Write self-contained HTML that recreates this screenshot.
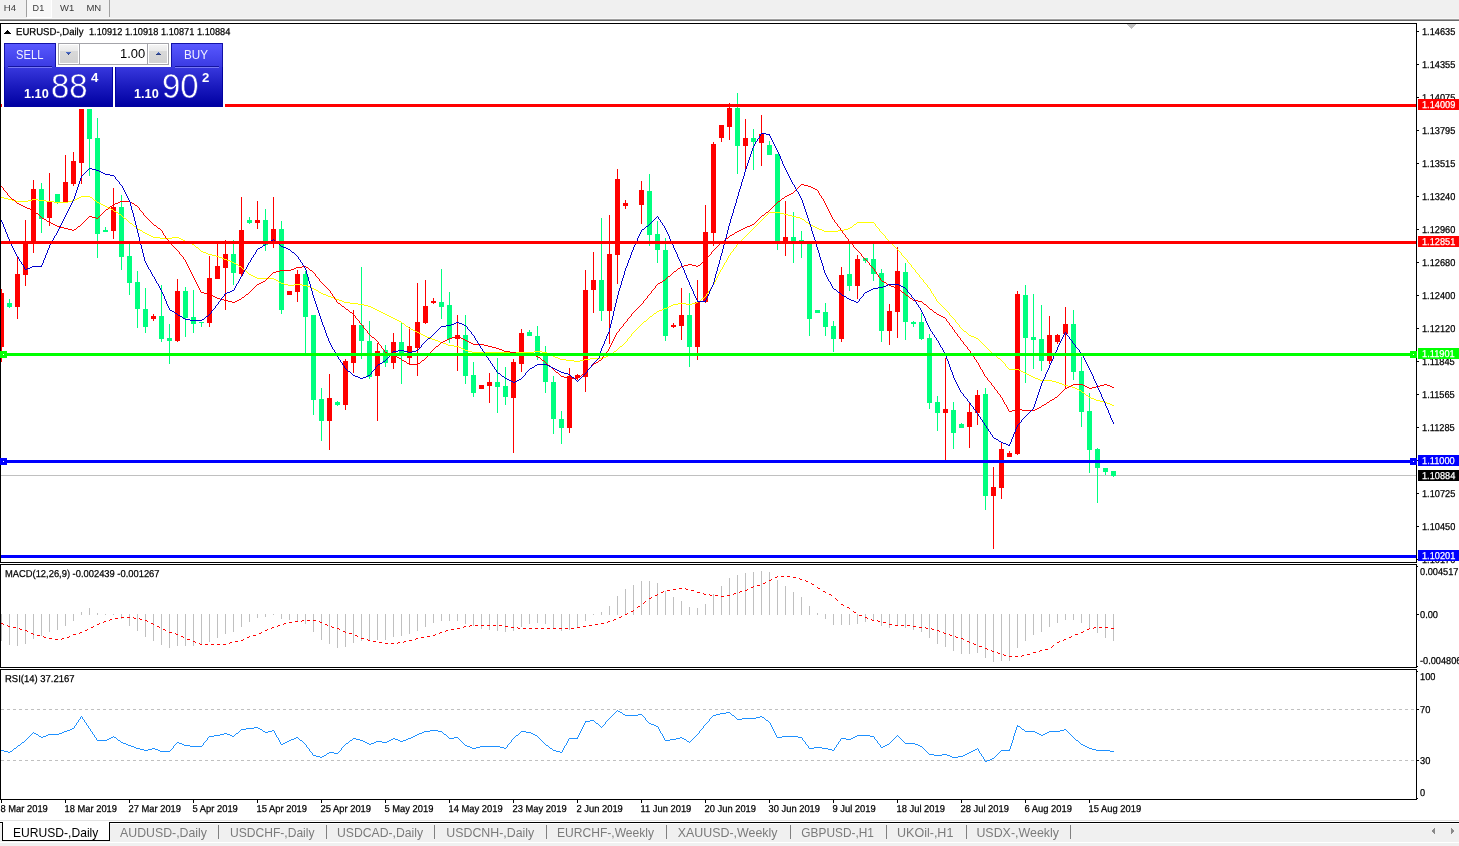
<!DOCTYPE html>
<html lang="en">
<head>
<meta charset="utf-8">
<title>EURUSD-,Daily</title>
<style>
html,body{margin:0;padding:0;}
body{width:1459px;height:846px;position:relative;overflow:hidden;background:#fff;font-family:"Liberation Sans", Arial, sans-serif;}
#toolbar{position:absolute;left:0;top:0;width:1459px;height:19px;background:linear-gradient(#f0f0f0 0,#f0f0f0 18px,#f8f8f8 18px);border-bottom:1px solid #a0a0a0;box-sizing:content-box;}
#toolbar .ln2{position:absolute;left:0;top:20px;width:1459px;height:1px;background:#696969;}
#toolbar .tf{position:absolute;top:2px;font-size:10px;line-height:11px;color:#3c3c3c;}
#toolbar .vsep{position:absolute;top:0;width:1px;height:17px;background:#a0a0a0;}
#toolbar .pressed{position:absolute;left:27px;top:0;width:24px;height:17px;background:#f8f8f8;border-right:1px solid #fff;border-bottom:1px solid #fff;}
#panel{position:absolute;left:2px;top:42px;width:223px;height:67px;background:#fff;}
#panel .btn{position:absolute;top:1px;width:52px;height:24px;background:linear-gradient(#5858ff,#3a3ae2);box-sizing:border-box;border:1px solid #1212a8;border-bottom:none;color:#f0f0ff;font-size:13px;line-height:24px;text-align:center;}
#panel .btn span{position:absolute;left:0;top:0;white-space:nowrap;transform-origin:left top;}
#panel .btn u{position:absolute;left:3px;right:3px;bottom:-1px;height:1px;background:#7878f4;border-top:1px solid #1414a0;z-index:3;}
#panel .px{position:absolute;top:25px;height:40px;background:linear-gradient(#3838de,#1a1abe 50%,#0000a2);box-sizing:border-box;border:1px solid #0202a0;border-top:none;color:#fff;}
#panel .px span{position:absolute;white-space:nowrap;transform-origin:left top;}
#panel .px .s{font-weight:bold;font-size:12px;line-height:12px;}
#panel .px .b{font-size:34.5px;line-height:34px;-webkit-text-stroke:0.5px #1c1cc0;}
#spin{position:absolute;left:56px;top:1px;width:111px;height:22px;box-sizing:border-box;border:1px solid #a4a4aa;background:#fff;}
#spin .sb{position:absolute;top:1px;width:18px;height:18px;background:linear-gradient(#f4f4f4 0%,#e9e9e9 33%,#d9d9d9 34%,#d2d2d2 100%);}
#spin .dv{position:absolute;top:0;width:1px;height:20px;background:#a4a4aa;}
#spin .val{position:absolute;left:0;top:0;font-size:12px;line-height:12px;color:#000;white-space:nowrap;transform-origin:left top;}
#tabs{position:absolute;left:0;top:820px;width:1459px;height:26px;background:#f0f0f0;}
#tabs .l0{position:absolute;left:0;top:0;width:1459px;height:1px;background:#e3e3e3;}
#tabs .l1{position:absolute;left:0;top:1px;width:1459px;height:1px;background:#fff;}
#tabs .l2{position:absolute;left:0;top:2px;width:1459px;height:1px;background:#000;}
#tabs .l3{position:absolute;left:0;top:3px;width:1459px;height:1px;background:#fff;}
#tabs .act{position:absolute;left:2px;top:2px;width:108px;height:19px;background:#fff;border:1px solid #000;border-top:none;box-sizing:border-box;}
#tabs .bot{position:absolute;left:0;top:22px;width:1459px;height:1px;background:#fff;}
</style>
</head>
<body>
<div id="toolbar">
  <i class="vsep" style="left:26px"></i>
  <i class="pressed"></i>
  <i class="vsep" style="left:109px"></i>
  <svg width="120" height="19" viewBox="0 0 120 19" style="position:absolute;left:0;top:0" font-family='"Liberation Sans", Arial, sans-serif' font-size="9.6" fill="#3a3a3a">
    <text x="3.8" y="11" textLength="12.2" lengthAdjust="spacingAndGlyphs">H4</text>
    <text x="32.6" y="11" textLength="11.6" lengthAdjust="spacingAndGlyphs">D1</text>
    <text x="60" y="11" textLength="14.2" lengthAdjust="spacingAndGlyphs">W1</text>
    <text x="86.4" y="11" textLength="14.8" lengthAdjust="spacingAndGlyphs">MN</text>
  </svg>
  <i class="ln2"></i>
</div>
<svg width="1459" height="846" viewBox="0 0 1459 846" shape-rendering="crispEdges" style="position:absolute;left:0;top:0"><rect x="1" y="475" width="1415" height="1" fill="#c0c0c0" />
<g id="candles">
<rect x="1" y="289" width="1" height="73" fill="#ff0000" />
<rect x="-1" y="293" width="5" height="54" fill="#ff0000" />
<rect x="9" y="299" width="1" height="9" fill="#00ff7f" />
<rect x="7" y="303" width="5" height="4" fill="#00ff7f" />
<rect x="17" y="257" width="1" height="62" fill="#ff0000" />
<rect x="15" y="274" width="5" height="33" fill="#ff0000" />
<rect x="25" y="220" width="1" height="66" fill="#ff0000" />
<rect x="23" y="241" width="5" height="34" fill="#ff0000" />
<rect x="33" y="180" width="1" height="73" fill="#ff0000" />
<rect x="31" y="189" width="5" height="53" fill="#ff0000" />
<rect x="41" y="183" width="1" height="50" fill="#00ff7f" />
<rect x="39" y="189" width="5" height="30" fill="#00ff7f" />
<rect x="49" y="173" width="1" height="53" fill="#ff0000" />
<rect x="47" y="202" width="5" height="16" fill="#ff0000" />
<rect x="57" y="194" width="1" height="10" fill="#00ff7f" />
<rect x="55" y="194" width="5" height="8" fill="#00ff7f" />
<rect x="65" y="155" width="1" height="47" fill="#ff0000" />
<rect x="63" y="182" width="5" height="20" fill="#ff0000" />
<rect x="73" y="152" width="1" height="34" fill="#ff0000" />
<rect x="71" y="161" width="5" height="23" fill="#ff0000" />
<rect x="81" y="98" width="1" height="86" fill="#ff0000" />
<rect x="79" y="104" width="5" height="59" fill="#ff0000" />
<rect x="89" y="96" width="1" height="80" fill="#00ff7f" />
<rect x="87" y="104" width="5" height="35" fill="#00ff7f" />
<rect x="97" y="118" width="1" height="140" fill="#00ff7f" />
<rect x="95" y="138" width="5" height="96" fill="#00ff7f" />
<rect x="105" y="227" width="1" height="5" fill="#00ff7f" />
<rect x="103" y="230" width="5" height="2" fill="#00ff7f" />
<rect x="113" y="188" width="1" height="51" fill="#ff0000" />
<rect x="111" y="207" width="5" height="24" fill="#ff0000" />
<rect x="121" y="195" width="1" height="75" fill="#00ff7f" />
<rect x="119" y="207" width="5" height="50" fill="#00ff7f" />
<rect x="129" y="243" width="1" height="52" fill="#00ff7f" />
<rect x="127" y="256" width="5" height="27" fill="#00ff7f" />
<rect x="137" y="271" width="1" height="57" fill="#00ff7f" />
<rect x="135" y="282" width="5" height="27" fill="#00ff7f" />
<rect x="145" y="288" width="1" height="45" fill="#00ff7f" />
<rect x="143" y="309" width="5" height="18" fill="#00ff7f" />
<rect x="153" y="314" width="1" height="7" fill="#ff0000" />
<rect x="151" y="316" width="5" height="3" fill="#ff0000" />
<rect x="161" y="285" width="1" height="57" fill="#00ff7f" />
<rect x="159" y="316" width="5" height="23" fill="#00ff7f" />
<rect x="169" y="324" width="1" height="40" fill="#00ff7f" />
<rect x="167" y="338" width="5" height="3" fill="#00ff7f" />
<rect x="177" y="279" width="1" height="63" fill="#ff0000" />
<rect x="175" y="291" width="5" height="50" fill="#ff0000" />
<rect x="185" y="287" width="1" height="50" fill="#00ff7f" />
<rect x="183" y="291" width="5" height="27" fill="#00ff7f" />
<rect x="193" y="290" width="1" height="43" fill="#00ff7f" />
<rect x="191" y="317" width="5" height="7" fill="#00ff7f" />
<rect x="201" y="322" width="1" height="5" fill="#00ff7f" />
<rect x="199" y="322" width="5" height="1" fill="#00ff7f" />
<rect x="209" y="256" width="1" height="71" fill="#ff0000" />
<rect x="207" y="278" width="5" height="45" fill="#ff0000" />
<rect x="217" y="243" width="1" height="36" fill="#ff0000" />
<rect x="215" y="266" width="5" height="13" fill="#ff0000" />
<rect x="225" y="240" width="1" height="70" fill="#ff0000" />
<rect x="223" y="254" width="5" height="14" fill="#ff0000" />
<rect x="233" y="240" width="1" height="45" fill="#00ff7f" />
<rect x="231" y="254" width="5" height="19" fill="#00ff7f" />
<rect x="241" y="197" width="1" height="80" fill="#ff0000" />
<rect x="239" y="230" width="5" height="44" fill="#ff0000" />
<rect x="249" y="217" width="1" height="7" fill="#00ff7f" />
<rect x="247" y="220" width="5" height="3" fill="#00ff7f" />
<rect x="257" y="201" width="1" height="28" fill="#ff0000" />
<rect x="255" y="220" width="5" height="3" fill="#ff0000" />
<rect x="265" y="209" width="1" height="42" fill="#00ff7f" />
<rect x="263" y="220" width="5" height="25" fill="#00ff7f" />
<rect x="273" y="197" width="1" height="51" fill="#ff0000" />
<rect x="271" y="229" width="5" height="14" fill="#ff0000" />
<rect x="281" y="221" width="1" height="93" fill="#00ff7f" />
<rect x="279" y="229" width="5" height="81" fill="#00ff7f" />
<rect x="289" y="291" width="1" height="4" fill="#ff0000" />
<rect x="287" y="291" width="5" height="4" fill="#ff0000" />
<rect x="297" y="270" width="1" height="32" fill="#ff0000" />
<rect x="295" y="274" width="5" height="18" fill="#ff0000" />
<rect x="305" y="271" width="1" height="82" fill="#00ff7f" />
<rect x="303" y="274" width="5" height="43" fill="#00ff7f" />
<rect x="313" y="315" width="1" height="100" fill="#00ff7f" />
<rect x="311" y="315" width="5" height="85" fill="#00ff7f" />
<rect x="321" y="388" width="1" height="53" fill="#00ff7f" />
<rect x="319" y="399" width="5" height="22" fill="#00ff7f" />
<rect x="329" y="374" width="1" height="76" fill="#ff0000" />
<rect x="327" y="398" width="5" height="23" fill="#ff0000" />
<rect x="337" y="401" width="1" height="5" fill="#00ff7f" />
<rect x="335" y="402" width="5" height="3" fill="#00ff7f" />
<rect x="345" y="359" width="1" height="51" fill="#ff0000" />
<rect x="343" y="361" width="5" height="44" fill="#ff0000" />
<rect x="353" y="310" width="1" height="63" fill="#ff0000" />
<rect x="351" y="325" width="5" height="38" fill="#ff0000" />
<rect x="361" y="267" width="1" height="92" fill="#00ff7f" />
<rect x="359" y="325" width="5" height="16" fill="#00ff7f" />
<rect x="369" y="321" width="1" height="58" fill="#00ff7f" />
<rect x="367" y="341" width="5" height="36" fill="#00ff7f" />
<rect x="377" y="343" width="1" height="78" fill="#ff0000" />
<rect x="375" y="351" width="5" height="25" fill="#ff0000" />
<rect x="385" y="345" width="1" height="22" fill="#00ff7f" />
<rect x="383" y="350" width="5" height="13" fill="#00ff7f" />
<rect x="393" y="333" width="1" height="36" fill="#ff0000" />
<rect x="391" y="342" width="5" height="21" fill="#ff0000" />
<rect x="401" y="322" width="1" height="62" fill="#00ff7f" />
<rect x="399" y="342" width="5" height="14" fill="#00ff7f" />
<rect x="409" y="327" width="1" height="37" fill="#ff0000" />
<rect x="407" y="346" width="5" height="12" fill="#ff0000" />
<rect x="417" y="283" width="1" height="93" fill="#ff0000" />
<rect x="415" y="322" width="5" height="26" fill="#ff0000" />
<rect x="425" y="280" width="1" height="44" fill="#ff0000" />
<rect x="423" y="306" width="5" height="17" fill="#ff0000" />
<rect x="433" y="298" width="1" height="6" fill="#ff0000" />
<rect x="431" y="301" width="5" height="2" fill="#ff0000" />
<rect x="441" y="269" width="1" height="50" fill="#00ff7f" />
<rect x="439" y="302" width="5" height="5" fill="#00ff7f" />
<rect x="449" y="292" width="1" height="51" fill="#00ff7f" />
<rect x="447" y="305" width="5" height="34" fill="#00ff7f" />
<rect x="457" y="315" width="1" height="56" fill="#ff0000" />
<rect x="455" y="335" width="5" height="4" fill="#ff0000" />
<rect x="465" y="315" width="1" height="69" fill="#00ff7f" />
<rect x="463" y="335" width="5" height="41" fill="#00ff7f" />
<rect x="473" y="362" width="1" height="35" fill="#00ff7f" />
<rect x="471" y="375" width="5" height="18" fill="#00ff7f" />
<rect x="481" y="385" width="1" height="4" fill="#ff0000" />
<rect x="479" y="385" width="5" height="4" fill="#ff0000" />
<rect x="489" y="373" width="1" height="30" fill="#ff0000" />
<rect x="487" y="382" width="5" height="4" fill="#ff0000" />
<rect x="497" y="358" width="1" height="55" fill="#00ff7f" />
<rect x="495" y="382" width="5" height="5" fill="#00ff7f" />
<rect x="505" y="367" width="1" height="38" fill="#00ff7f" />
<rect x="503" y="386" width="5" height="11" fill="#00ff7f" />
<rect x="513" y="359" width="1" height="94" fill="#ff0000" />
<rect x="511" y="362" width="5" height="36" fill="#ff0000" />
<rect x="521" y="329" width="1" height="43" fill="#ff0000" />
<rect x="519" y="333" width="5" height="31" fill="#ff0000" />
<rect x="529" y="330" width="1" height="6" fill="#00ff7f" />
<rect x="527" y="332" width="5" height="4" fill="#00ff7f" />
<rect x="537" y="326" width="1" height="34" fill="#00ff7f" />
<rect x="535" y="336" width="5" height="18" fill="#00ff7f" />
<rect x="545" y="346" width="1" height="47" fill="#00ff7f" />
<rect x="543" y="353" width="5" height="29" fill="#00ff7f" />
<rect x="553" y="376" width="1" height="58" fill="#00ff7f" />
<rect x="551" y="382" width="5" height="37" fill="#00ff7f" />
<rect x="561" y="411" width="1" height="33" fill="#00ff7f" />
<rect x="559" y="419" width="5" height="9" fill="#00ff7f" />
<rect x="569" y="368" width="1" height="65" fill="#ff0000" />
<rect x="567" y="376" width="5" height="52" fill="#ff0000" />
<rect x="577" y="374" width="1" height="6" fill="#ff0000" />
<rect x="575" y="375" width="5" height="3" fill="#ff0000" />
<rect x="585" y="270" width="1" height="122" fill="#ff0000" />
<rect x="583" y="290" width="5" height="87" fill="#ff0000" />
<rect x="593" y="252" width="1" height="61" fill="#ff0000" />
<rect x="591" y="280" width="5" height="10" fill="#ff0000" />
<rect x="601" y="218" width="1" height="103" fill="#00ff7f" />
<rect x="599" y="280" width="5" height="31" fill="#00ff7f" />
<rect x="609" y="215" width="1" height="129" fill="#ff0000" />
<rect x="607" y="254" width="5" height="57" fill="#ff0000" />
<rect x="617" y="169" width="1" height="115" fill="#ff0000" />
<rect x="615" y="179" width="5" height="76" fill="#ff0000" />
<rect x="625" y="200" width="1" height="9" fill="#ff0000" />
<rect x="623" y="203" width="5" height="3" fill="#ff0000" />
<rect x="641" y="181" width="1" height="43" fill="#ff0000" />
<rect x="639" y="190" width="5" height="15" fill="#ff0000" />
<rect x="649" y="174" width="1" height="72" fill="#00ff7f" />
<rect x="647" y="191" width="5" height="44" fill="#00ff7f" />
<rect x="657" y="221" width="1" height="42" fill="#00ff7f" />
<rect x="655" y="234" width="5" height="16" fill="#00ff7f" />
<rect x="665" y="238" width="1" height="103" fill="#00ff7f" />
<rect x="663" y="250" width="5" height="86" fill="#00ff7f" />
<rect x="673" y="323" width="1" height="5" fill="#ff0000" />
<rect x="671" y="325" width="5" height="2" fill="#ff0000" />
<rect x="681" y="288" width="1" height="52" fill="#ff0000" />
<rect x="679" y="315" width="5" height="11" fill="#ff0000" />
<rect x="689" y="293" width="1" height="74" fill="#00ff7f" />
<rect x="687" y="315" width="5" height="32" fill="#00ff7f" />
<rect x="697" y="280" width="1" height="80" fill="#ff0000" />
<rect x="695" y="302" width="5" height="45" fill="#ff0000" />
<rect x="705" y="205" width="1" height="98" fill="#ff0000" />
<rect x="703" y="232" width="5" height="70" fill="#ff0000" />
<rect x="713" y="142" width="1" height="104" fill="#ff0000" />
<rect x="711" y="144" width="5" height="89" fill="#ff0000" />
<rect x="721" y="125" width="1" height="17" fill="#ff0000" />
<rect x="719" y="125" width="5" height="13" fill="#ff0000" />
<rect x="729" y="103" width="1" height="37" fill="#ff0000" />
<rect x="727" y="108" width="5" height="19" fill="#ff0000" />
<rect x="737" y="93" width="1" height="81" fill="#00ff7f" />
<rect x="735" y="108" width="5" height="38" fill="#00ff7f" />
<rect x="745" y="119" width="1" height="50" fill="#ff0000" />
<rect x="743" y="138" width="5" height="8" fill="#ff0000" />
<rect x="753" y="129" width="1" height="41" fill="#00ff7f" />
<rect x="751" y="138" width="5" height="4" fill="#00ff7f" />
<rect x="761" y="115" width="1" height="51" fill="#ff0000" />
<rect x="759" y="134" width="5" height="9" fill="#ff0000" />
<rect x="769" y="141" width="1" height="14" fill="#00ff7f" />
<rect x="767" y="145" width="5" height="10" fill="#00ff7f" />
<rect x="777" y="154" width="1" height="96" fill="#00ff7f" />
<rect x="775" y="154" width="5" height="89" fill="#00ff7f" />
<rect x="785" y="201" width="1" height="55" fill="#ff0000" />
<rect x="783" y="237" width="5" height="6" fill="#ff0000" />
<rect x="793" y="212" width="1" height="51" fill="#00ff7f" />
<rect x="791" y="237" width="5" height="6" fill="#00ff7f" />
<rect x="801" y="231" width="1" height="27" fill="#00ff7f" />
<rect x="799" y="240" width="5" height="3" fill="#00ff7f" />
<rect x="809" y="241" width="1" height="95" fill="#00ff7f" />
<rect x="807" y="242" width="5" height="77" fill="#00ff7f" />
<rect x="817" y="310" width="1" height="3" fill="#00ff7f" />
<rect x="815" y="310" width="5" height="3" fill="#00ff7f" />
<rect x="825" y="303" width="1" height="33" fill="#00ff7f" />
<rect x="823" y="312" width="5" height="15" fill="#00ff7f" />
<rect x="833" y="321" width="1" height="31" fill="#00ff7f" />
<rect x="831" y="326" width="5" height="13" fill="#00ff7f" />
<rect x="841" y="267" width="1" height="75" fill="#ff0000" />
<rect x="839" y="275" width="5" height="64" fill="#ff0000" />
<rect x="849" y="243" width="1" height="48" fill="#00ff7f" />
<rect x="847" y="274" width="5" height="12" fill="#00ff7f" />
<rect x="857" y="255" width="1" height="44" fill="#ff0000" />
<rect x="855" y="259" width="5" height="27" fill="#ff0000" />
<rect x="865" y="258" width="1" height="5" fill="#00ff7f" />
<rect x="863" y="258" width="5" height="3" fill="#00ff7f" />
<rect x="873" y="244" width="1" height="37" fill="#00ff7f" />
<rect x="871" y="259" width="5" height="15" fill="#00ff7f" />
<rect x="881" y="269" width="1" height="73" fill="#00ff7f" />
<rect x="879" y="273" width="5" height="58" fill="#00ff7f" />
<rect x="889" y="304" width="1" height="41" fill="#ff0000" />
<rect x="887" y="311" width="5" height="20" fill="#ff0000" />
<rect x="897" y="247" width="1" height="91" fill="#ff0000" />
<rect x="895" y="271" width="5" height="41" fill="#ff0000" />
<rect x="905" y="263" width="1" height="77" fill="#00ff7f" />
<rect x="903" y="272" width="5" height="50" fill="#00ff7f" />
<rect x="913" y="321" width="1" height="6" fill="#00ff7f" />
<rect x="911" y="322" width="5" height="2" fill="#00ff7f" />
<rect x="921" y="313" width="1" height="27" fill="#00ff7f" />
<rect x="919" y="322" width="5" height="17" fill="#00ff7f" />
<rect x="929" y="334" width="1" height="75" fill="#00ff7f" />
<rect x="927" y="338" width="5" height="65" fill="#00ff7f" />
<rect x="937" y="396" width="1" height="35" fill="#00ff7f" />
<rect x="935" y="402" width="5" height="11" fill="#00ff7f" />
<rect x="945" y="358" width="1" height="102" fill="#ff0000" />
<rect x="943" y="409" width="5" height="4" fill="#ff0000" />
<rect x="953" y="402" width="1" height="47" fill="#00ff7f" />
<rect x="951" y="410" width="5" height="23" fill="#00ff7f" />
<rect x="961" y="423" width="1" height="5" fill="#00ff7f" />
<rect x="959" y="424" width="5" height="4" fill="#00ff7f" />
<rect x="969" y="402" width="1" height="46" fill="#ff0000" />
<rect x="967" y="412" width="5" height="15" fill="#ff0000" />
<rect x="977" y="390" width="1" height="35" fill="#ff0000" />
<rect x="975" y="395" width="5" height="18" fill="#ff0000" />
<rect x="985" y="388" width="1" height="122" fill="#00ff7f" />
<rect x="983" y="394" width="5" height="102" fill="#00ff7f" />
<rect x="993" y="467" width="1" height="82" fill="#ff0000" />
<rect x="991" y="487" width="5" height="9" fill="#ff0000" />
<rect x="1001" y="442" width="1" height="57" fill="#ff0000" />
<rect x="999" y="449" width="5" height="39" fill="#ff0000" />
<rect x="1009" y="451" width="1" height="6" fill="#ff0000" />
<rect x="1007" y="453" width="5" height="4" fill="#ff0000" />
<rect x="1017" y="291" width="1" height="164" fill="#ff0000" />
<rect x="1015" y="294" width="5" height="160" fill="#ff0000" />
<rect x="1025" y="285" width="1" height="98" fill="#00ff7f" />
<rect x="1023" y="295" width="5" height="43" fill="#00ff7f" />
<rect x="1033" y="294" width="1" height="75" fill="#00ff7f" />
<rect x="1031" y="337" width="5" height="3" fill="#00ff7f" />
<rect x="1041" y="305" width="1" height="66" fill="#00ff7f" />
<rect x="1039" y="339" width="5" height="22" fill="#00ff7f" />
<rect x="1049" y="316" width="1" height="48" fill="#ff0000" />
<rect x="1047" y="335" width="5" height="26" fill="#ff0000" />
<rect x="1057" y="334" width="1" height="10" fill="#ff0000" />
<rect x="1055" y="335" width="5" height="7" fill="#ff0000" />
<rect x="1065" y="307" width="1" height="82" fill="#ff0000" />
<rect x="1063" y="324" width="5" height="10" fill="#ff0000" />
<rect x="1073" y="310" width="1" height="70" fill="#00ff7f" />
<rect x="1071" y="324" width="5" height="48" fill="#00ff7f" />
<rect x="1081" y="357" width="1" height="70" fill="#00ff7f" />
<rect x="1079" y="371" width="5" height="41" fill="#00ff7f" />
<rect x="1089" y="393" width="1" height="80" fill="#00ff7f" />
<rect x="1087" y="411" width="5" height="39" fill="#00ff7f" />
<rect x="1097" y="448" width="1" height="55" fill="#00ff7f" />
<rect x="1095" y="449" width="5" height="19" fill="#00ff7f" />
<rect x="1105" y="468" width="1" height="7" fill="#00ff7f" />
<rect x="1103" y="468" width="5" height="4" fill="#00ff7f" />
<rect x="1113" y="471" width="1" height="6" fill="#00ff7f" />
<rect x="1111" y="471" width="5" height="5" fill="#00ff7f" />
</g>
<g id="ma">
<path d="M81 196h9v1h-9zM1 197h3v1h-3zM79 197h2v1h-2zM90 197h2v1h-2zM4 198h4v1h-4zM77 198h2v1h-2zM8 199h4v1h-4zM32 199h6v1h-6zM75 199h2v1h-2zM12 200h4v1h-4zM28 200h4v1h-4zM38 200h8v1h-8zM72 200h3v1h-3zM94 200h2v1h-2zM16 201h12v1h-12zM46 201h8v1h-8zM68 201h4v1h-4zM54 202h14v1h-14zM97 202h2v1h-2zM99 203h2v1h-2zM101 204h2v1h-2zM103 205h2v1h-2zM105 206h2v1h-2zM107 207h2v1h-2zM109 208h2v1h-2zM111 209h2v1h-2zM114 211h2v1h-2zM116 212h2v1h-2zM769 212h11v1h-11zM780 213h4v1h-4zM119 214h2v1h-2zM784 214h4v1h-4zM788 215h4v1h-4zM792 216h4v1h-4zM796 217h4v1h-4zM124 218h2v1h-2zM800 218h2v1h-2zM802 219h2v1h-2zM806 222h2v1h-2zM857 222h17v1h-17zM130 223h2v1h-2zM809 224h2v1h-2zM854 224h2v1h-2zM811 225h2v1h-2zM134 226h2v1h-2zM813 226h2v1h-2zM815 227h2v1h-2zM850 227h2v1h-2zM817 228h2v1h-2zM848 228h2v1h-2zM138 229h2v1h-2zM819 229h3v1h-3zM844 229h4v1h-4zM140 230h2v1h-2zM822 230h2v1h-2zM838 230h6v1h-6zM824 231h14v1h-14zM143 232h2v1h-2zM145 233h2v1h-2zM147 234h2v1h-2zM149 235h2v1h-2zM151 236h2v1h-2zM153 237h7v1h-7zM172 237h7v1h-7zM160 238h12v1h-12zM179 238h2v1h-2zM181 239h2v1h-2zM183 240h2v1h-2zM185 241h2v1h-2zM187 242h3v1h-3zM190 243h2v1h-2zM192 244h2v1h-2zM196 247h2v1h-2zM201 251h2v1h-2zM203 252h3v1h-3zM206 253h2v1h-2zM208 254h4v1h-4zM212 255h4v1h-4zM216 256h3v1h-3zM219 257h3v1h-3zM222 258h2v1h-2zM224 259h3v1h-3zM227 260h3v1h-3zM230 261h2v1h-2zM232 262h2v1h-2zM234 263h2v1h-2zM236 264h2v1h-2zM239 266h2v1h-2zM244 270h2v1h-2zM249 274h2v1h-2zM251 275h2v1h-2zM253 276h2v1h-2zM255 277h2v1h-2zM257 278h17v1h-17zM274 279h2v1h-2zM276 280h2v1h-2zM279 282h2v1h-2zM281 283h3v1h-3zM284 284h4v1h-4zM294 284h8v1h-8zM288 285h6v1h-6zM302 285h5v1h-5zM307 286h3v1h-3zM310 287h2v1h-2zM312 288h2v1h-2zM314 289h2v1h-2zM316 290h2v1h-2zM319 292h2v1h-2zM321 293h2v1h-2zM323 294h3v1h-3zM326 295h2v1h-2zM328 296h3v1h-3zM331 297h3v1h-3zM334 298h2v1h-2zM702 298h2v1h-2zM336 299h3v1h-3zM339 300h3v1h-3zM342 301h2v1h-2zM698 301h2v1h-2zM344 302h6v1h-6zM696 302h2v1h-2zM350 303h8v1h-8zM678 303h8v1h-8zM692 303h4v1h-4zM358 304h6v1h-6zM673 304h5v1h-5zM686 304h6v1h-6zM364 305h4v1h-4zM671 305h2v1h-2zM368 306h3v1h-3zM669 306h2v1h-2zM371 307h2v1h-2zM667 307h2v1h-2zM373 308h2v1h-2zM664 308h3v1h-3zM375 309h2v1h-2zM662 309h2v1h-2zM377 310h2v1h-2zM659 310h3v1h-3zM379 311h2v1h-2zM657 311h2v1h-2zM381 312h2v1h-2zM383 313h2v1h-2zM654 313h2v1h-2zM385 314h2v1h-2zM387 315h2v1h-2zM389 316h2v1h-2zM650 316h2v1h-2zM391 317h2v1h-2zM393 318h2v1h-2zM395 319h2v1h-2zM397 320h2v1h-2zM399 321h2v1h-2zM644 321h2v1h-2zM402 323h2v1h-2zM406 326h2v1h-2zM409 328h2v1h-2zM411 329h2v1h-2zM413 330h2v1h-2zM415 331h2v1h-2zM964 331h2v1h-2zM417 332h2v1h-2zM419 333h2v1h-2zM421 334h2v1h-2zM423 335h2v1h-2zM969 335h2v1h-2zM425 336h2v1h-2zM971 336h3v1h-3zM427 337h3v1h-3zM974 337h2v1h-2zM430 338h2v1h-2zM976 338h2v1h-2zM432 339h3v1h-3zM435 340h3v1h-3zM438 341h2v1h-2zM440 342h3v1h-3zM443 343h3v1h-3zM446 344h2v1h-2zM448 345h6v1h-6zM454 346h5v1h-5zM620 346h2v1h-2zM459 347h2v1h-2zM461 348h2v1h-2zM463 349h2v1h-2zM465 350h3v1h-3zM468 351h4v1h-4zM534 351h8v1h-8zM614 351h2v1h-2zM472 352h62v1h-62zM542 352h5v1h-5zM547 353h2v1h-2zM549 354h2v1h-2zM610 354h2v1h-2zM551 355h2v1h-2zM608 355h2v1h-2zM994 355h2v1h-2zM553 356h2v1h-2zM606 356h2v1h-2zM555 357h3v1h-3zM603 357h3v1h-3zM558 358h2v1h-2zM590 358h13v1h-13zM998 358h2v1h-2zM560 359h6v1h-6zM584 359h6v1h-6zM566 360h8v1h-8zM580 360h4v1h-4zM574 361h6v1h-6zM1009 369h10v1h-10zM1019 370h2v1h-2zM1021 371h2v1h-2zM1023 372h2v1h-2zM1025 373h2v1h-2zM1027 374h2v1h-2zM1029 375h2v1h-2zM1031 376h2v1h-2zM1033 377h2v1h-2zM1035 378h3v1h-3zM1038 379h2v1h-2zM1040 380h12v1h-12zM1052 381h4v1h-4zM1056 382h3v1h-3zM1059 383h3v1h-3zM1062 384h2v1h-2zM1064 385h4v1h-4zM1068 386h4v1h-4zM1072 387h3v1h-3zM1075 388h2v1h-2zM1077 389h2v1h-2zM1079 390h2v1h-2zM1082 392h2v1h-2zM1086 395h2v1h-2zM1089 397h2v1h-2zM1091 398h3v1h-3zM1094 399h2v1h-2zM1096 400h4v1h-4zM1100 401h4v1h-4zM1104 402h3v1h-3zM1107 403h3v1h-3zM1110 404h2v1h-2zM1112 405h2v1h-2zM92 198h1v1h-1zM93 199h1v1h-1zM96 201h1v1h-1zM113 210h1v1h-1zM118 213h1v1h-1zM121 215h1v1h-1zM122 216h1v1h-1zM123 217h1v1h-1zM126 219h1v1h-1zM127 220h1v1h-1zM128 221h1v1h-1zM129 222h1v1h-1zM132 224h1v1h-1zM133 225h1v1h-1zM136 227h1v1h-1zM137 228h1v1h-1zM142 231h1v1h-1zM194 245h1v1h-1zM195 246h1v1h-1zM198 248h1v1h-1zM199 249h1v1h-1zM200 250h1v1h-1zM238 265h1v1h-1zM241 267h1v1h-1zM242 268h1v1h-1zM243 269h1v1h-1zM246 271h1v1h-1zM247 272h1v1h-1zM248 273h1v1h-1zM278 281h1v1h-1zM318 291h1v1h-1zM401 322h1v1h-1zM404 324h1v1h-1zM405 325h1v1h-1zM408 327h1v1h-1zM612 353h1v1h-1zM613 352h1v1h-1zM616 350h1v1h-1zM617 349h1v1h-1zM618 348h1v1h-1zM619 347h1v1h-1zM622 345h1v1h-1zM623 344h1v1h-1zM624 343h1v1h-1zM625 342h1v1h-1zM626 341h1v1h-1zM627 339h1v2h-1zM628 338h1v1h-1zM629 337h1v1h-1zM630 336h1v1h-1zM631 334h1v2h-1zM632 333h1v1h-1zM633 332h1v1h-1zM634 331h1v1h-1zM635 330h1v1h-1zM636 329h1v1h-1zM637 328h1v1h-1zM638 327h1v1h-1zM639 326h1v1h-1zM640 325h1v1h-1zM641 324h1v1h-1zM642 323h1v1h-1zM643 322h1v1h-1zM646 320h1v1h-1zM647 319h1v1h-1zM648 318h1v1h-1zM649 317h1v1h-1zM652 315h1v1h-1zM653 314h1v1h-1zM656 312h1v1h-1zM700 300h1v1h-1zM701 299h1v1h-1zM704 297h1v1h-1zM705 296h1v1h-1zM706 294h1v2h-1zM707 293h1v1h-1zM708 291h1v2h-1zM709 290h1v1h-1zM710 288h1v2h-1zM711 287h1v1h-1zM712 285h1v2h-1zM713 284h1v1h-1zM714 282h1v2h-1zM715 280h1v2h-1zM716 278h1v2h-1zM717 276h1v2h-1zM718 274h1v2h-1zM719 272h1v2h-1zM720 270h1v2h-1zM721 269h1v1h-1zM722 267h1v2h-1zM723 265h1v2h-1zM724 263h1v2h-1zM725 262h1v1h-1zM726 260h1v2h-1zM727 258h1v2h-1zM728 256h1v2h-1zM729 255h1v1h-1zM730 253h1v2h-1zM731 252h1v1h-1zM732 251h1v1h-1zM733 249h1v2h-1zM734 248h1v1h-1zM735 247h1v1h-1zM736 245h1v2h-1zM737 244h1v1h-1zM738 243h1v1h-1zM739 242h1v1h-1zM740 241h1v1h-1zM741 240h1v1h-1zM742 239h1v1h-1zM743 238h1v1h-1zM744 237h1v1h-1zM745 236h1v1h-1zM746 235h1v1h-1zM747 234h1v1h-1zM748 233h1v1h-1zM749 232h1v1h-1zM750 231h1v1h-1zM751 230h1v1h-1zM752 229h1v1h-1zM753 228h1v1h-1zM754 227h1v1h-1zM755 226h1v1h-1zM756 225h1v1h-1zM757 224h1v1h-1zM758 223h1v1h-1zM759 222h1v1h-1zM760 221h1v1h-1zM761 220h1v1h-1zM762 219h1v1h-1zM763 218h1v1h-1zM764 217h1v1h-1zM765 216h1v1h-1zM766 215h1v1h-1zM767 214h1v1h-1zM768 213h1v1h-1zM804 220h1v1h-1zM805 221h1v1h-1zM808 223h1v1h-1zM852 226h1v1h-1zM853 225h1v1h-1zM856 223h1v1h-1zM874 223h1v1h-1zM875 224h1v2h-1zM876 226h1v1h-1zM877 227h1v1h-1zM878 228h1v1h-1zM879 229h1v2h-1zM880 231h1v1h-1zM881 232h1v1h-1zM882 233h1v1h-1zM883 234h1v1h-1zM884 235h1v1h-1zM885 236h1v2h-1zM886 238h1v1h-1zM887 239h1v1h-1zM888 240h1v1h-1zM889 241h1v1h-1zM890 242h1v1h-1zM891 243h1v1h-1zM892 244h1v1h-1zM893 245h1v1h-1zM894 246h1v1h-1zM895 247h1v1h-1zM896 248h1v1h-1zM897 249h1v1h-1zM898 250h1v1h-1zM899 251h1v1h-1zM900 252h1v1h-1zM901 253h1v2h-1zM902 255h1v1h-1zM903 256h1v1h-1zM904 257h1v1h-1zM905 258h1v1h-1zM906 259h1v1h-1zM907 260h1v2h-1zM908 262h1v1h-1zM909 263h1v1h-1zM910 264h1v1h-1zM911 265h1v2h-1zM912 267h1v1h-1zM913 268h1v1h-1zM914 269h1v1h-1zM915 270h1v2h-1zM916 272h1v1h-1zM917 273h1v1h-1zM918 274h1v1h-1zM919 275h1v2h-1zM920 277h1v1h-1zM921 278h1v1h-1zM922 279h1v1h-1zM923 280h1v2h-1zM924 282h1v1h-1zM925 283h1v1h-1zM926 284h1v1h-1zM927 285h1v2h-1zM928 287h1v1h-1zM929 288h1v1h-1zM930 289h1v2h-1zM931 291h1v2h-1zM932 293h1v1h-1zM933 294h1v2h-1zM934 296h1v1h-1zM935 297h1v2h-1zM936 299h1v2h-1zM937 301h1v1h-1zM938 302h1v1h-1zM939 303h1v1h-1zM940 304h1v1h-1zM941 305h1v1h-1zM942 306h1v1h-1zM943 307h1v1h-1zM944 308h1v1h-1zM945 309h1v1h-1zM946 310h1v1h-1zM947 311h1v1h-1zM948 312h1v1h-1zM949 313h1v2h-1zM950 315h1v1h-1zM951 316h1v1h-1zM952 317h1v1h-1zM953 318h1v1h-1zM954 319h1v1h-1zM955 320h1v2h-1zM956 322h1v1h-1zM957 323h1v1h-1zM958 324h1v1h-1zM959 325h1v2h-1zM960 327h1v1h-1zM961 328h1v1h-1zM962 329h1v1h-1zM963 330h1v1h-1zM966 332h1v1h-1zM967 333h1v1h-1zM968 334h1v1h-1zM978 339h1v1h-1zM979 340h1v1h-1zM980 341h1v1h-1zM981 342h1v1h-1zM982 343h1v1h-1zM983 344h1v1h-1zM984 345h1v1h-1zM985 346h1v1h-1zM986 347h1v1h-1zM987 348h1v1h-1zM988 349h1v1h-1zM989 350h1v1h-1zM990 351h1v1h-1zM991 352h1v1h-1zM992 353h1v1h-1zM993 354h1v1h-1zM996 356h1v1h-1zM997 357h1v1h-1zM1000 359h1v1h-1zM1001 360h1v1h-1zM1002 361h1v1h-1zM1003 362h1v1h-1zM1004 363h1v1h-1zM1005 364h1v2h-1zM1006 366h1v1h-1zM1007 367h1v1h-1zM1008 368h1v1h-1zM1081 391h1v1h-1zM1084 393h1v1h-1zM1085 394h1v1h-1zM1088 396h1v1h-1z" fill="#ffff00"/>
<path d="M801 184h3v1h-3zM804 185h4v1h-4zM808 186h3v1h-3zM811 187h2v1h-2zM813 188h2v1h-2zM815 189h2v1h-2zM791 193h2v1h-2zM789 194h2v1h-2zM787 195h2v1h-2zM785 196h2v1h-2zM782 198h2v1h-2zM12 199h2v1h-2zM120 201h10v1h-10zM778 201h2v1h-2zM118 202h2v1h-2zM130 202h2v1h-2zM17 203h2v1h-2zM115 203h3v1h-3zM132 203h2v1h-2zM19 204h2v1h-2zM113 204h2v1h-2zM21 205h2v1h-2zM135 205h2v1h-2zM23 206h2v1h-2zM110 206h2v1h-2zM25 207h2v1h-2zM27 208h3v1h-3zM30 209h2v1h-2zM106 209h2v1h-2zM32 210h2v1h-2zM766 212h2v1h-2zM36 213h2v1h-2zM762 215h2v1h-2zM89 216h3v1h-3zM92 217h4v1h-4zM42 218h2v1h-2zM96 218h2v1h-2zM44 219h2v1h-2zM47 221h2v1h-2zM49 222h2v1h-2zM51 223h2v1h-2zM53 224h2v1h-2zM752 224h2v1h-2zM55 225h2v1h-2zM154 225h2v1h-2zM750 225h2v1h-2zM57 226h3v1h-3zM78 226h2v1h-2zM747 226h3v1h-3zM60 227h4v1h-4zM745 227h2v1h-2zM64 228h4v1h-4zM158 228h2v1h-2zM743 228h2v1h-2zM68 229h4v1h-4zM74 229h2v1h-2zM741 229h2v1h-2zM72 230h2v1h-2zM739 230h2v1h-2zM737 231h2v1h-2zM735 232h2v1h-2zM732 234h2v1h-2zM730 235h2v1h-2zM726 238h2v1h-2zM722 241h2v1h-2zM702 262h2v1h-2zM688 264h4v1h-4zM684 265h4v1h-4zM692 265h4v1h-4zM698 265h2v1h-2zM302 266h4v1h-4zM681 266h3v1h-3zM696 266h2v1h-2zM296 267h6v1h-6zM306 267h2v1h-2zM294 268h2v1h-2zM678 268h2v1h-2zM291 269h3v1h-3zM280 270h11v1h-11zM310 270h2v1h-2zM276 271h4v1h-4zM674 271h2v1h-2zM273 272h3v1h-3zM668 276h2v1h-2zM663 280h2v1h-2zM263 281h2v1h-2zM882 281h2v1h-2zM261 282h2v1h-2zM660 282h2v1h-2zM884 282h2v1h-2zM259 283h2v1h-2zM658 283h2v1h-2zM257 284h2v1h-2zM887 284h2v1h-2zM889 285h2v1h-2zM891 286h3v1h-3zM894 287h2v1h-2zM896 288h2v1h-2zM898 289h2v1h-2zM201 292h3v1h-3zM902 292h2v1h-2zM204 293h4v1h-4zM208 294h3v1h-3zM246 294h2v1h-2zM211 295h2v1h-2zM906 295h2v1h-2zM213 296h2v1h-2zM215 297h2v1h-2zM242 297h2v1h-2zM217 298h3v1h-3zM910 298h2v1h-2zM220 299h4v1h-4zM239 299h2v1h-2zM224 300h4v1h-4zM237 300h2v1h-2zM913 300h5v1h-5zM228 301h4v1h-4zM235 301h2v1h-2zM918 301h4v1h-4zM232 302h3v1h-3zM338 303h2v1h-2zM924 304h2v1h-2zM342 306h2v1h-2zM346 309h2v1h-2zM930 309h2v1h-2zM350 312h2v1h-2zM934 312h2v1h-2zM937 314h2v1h-2zM939 315h2v1h-2zM941 316h2v1h-2zM943 317h2v1h-2zM456 336h3v1h-3zM372 337h2v1h-2zM452 337h4v1h-4zM459 337h2v1h-2zM449 338h3v1h-3zM461 338h2v1h-2zM447 339h2v1h-2zM463 339h2v1h-2zM445 340h2v1h-2zM465 340h2v1h-2zM443 341h2v1h-2zM467 341h2v1h-2zM441 342h2v1h-2zM469 342h2v1h-2zM471 343h2v1h-2zM473 344h11v1h-11zM484 345h4v1h-4zM436 346h2v1h-2zM488 346h4v1h-4zM492 347h4v1h-4zM496 348h3v1h-3zM499 349h3v1h-3zM502 350h2v1h-2zM504 351h6v1h-6zM385 352h2v1h-2zM510 352h6v1h-6zM387 353h3v1h-3zM516 353h4v1h-4zM390 354h2v1h-2zM520 354h12v1h-12zM392 355h3v1h-3zM532 355h4v1h-4zM395 356h2v1h-2zM536 356h2v1h-2zM397 357h2v1h-2zM538 357h2v1h-2zM399 358h2v1h-2zM402 360h2v1h-2zM422 360h2v1h-2zM542 360h2v1h-2zM599 360h2v1h-2zM404 361h2v1h-2zM596 362h2v1h-2zM407 363h2v1h-2zM418 363h2v1h-2zM594 363h2v1h-2zM409 364h9v1h-9zM548 365h2v1h-2zM556 372h2v1h-2zM582 374h2v1h-2zM561 376h3v1h-3zM564 377h4v1h-4zM578 377h2v1h-2zM568 378h10v1h-10zM1073 384h10v1h-10zM1104 384h3v1h-3zM1071 385h2v1h-2zM1083 385h2v1h-2zM1100 385h4v1h-4zM1107 385h3v1h-3zM1069 386h2v1h-2zM1085 386h2v1h-2zM1096 386h4v1h-4zM1110 386h2v1h-2zM1067 387h2v1h-2zM1087 387h2v1h-2zM1092 387h4v1h-4zM1112 387h2v1h-2zM1065 388h2v1h-2zM1089 388h3v1h-3zM1055 397h2v1h-2zM1052 399h2v1h-2zM1050 400h2v1h-2zM1047 402h2v1h-2zM1044 404h2v1h-2zM1042 405h2v1h-2zM1039 407h2v1h-2zM1037 408h2v1h-2zM1016 409h6v1h-6zM1035 409h2v1h-2zM1012 410h4v1h-4zM1022 410h13v1h-13zM1009 411h3v1h-3zM1 186h1v1h-1zM2 187h1v1h-1zM3 188h1v2h-1zM4 190h1v1h-1zM5 191h1v1h-1zM6 192h1v1h-1zM7 193h1v2h-1zM8 195h1v1h-1zM9 196h1v1h-1zM10 197h1v1h-1zM11 198h1v1h-1zM14 200h1v1h-1zM15 201h1v1h-1zM16 202h1v1h-1zM34 211h1v1h-1zM35 212h1v1h-1zM38 214h1v1h-1zM39 215h1v1h-1zM40 216h1v1h-1zM41 217h1v1h-1zM46 220h1v1h-1zM76 228h1v1h-1zM77 227h1v1h-1zM80 225h1v1h-1zM81 224h1v1h-1zM82 223h1v1h-1zM83 222h1v1h-1zM84 221h1v1h-1zM85 220h1v1h-1zM86 219h1v1h-1zM87 218h1v1h-1zM88 217h1v1h-1zM98 217h1v1h-1zM99 216h1v1h-1zM100 215h1v1h-1zM101 214h1v1h-1zM102 213h1v1h-1zM103 212h1v1h-1zM104 211h1v1h-1zM105 210h1v1h-1zM108 208h1v1h-1zM109 207h1v1h-1zM112 205h1v1h-1zM134 204h1v1h-1zM137 206h1v1h-1zM138 207h1v1h-1zM139 208h1v2h-1zM140 210h1v1h-1zM141 211h1v1h-1zM142 212h1v1h-1zM143 213h1v2h-1zM144 215h1v1h-1zM145 216h1v1h-1zM146 217h1v1h-1zM147 218h1v1h-1zM148 219h1v1h-1zM149 220h1v1h-1zM150 221h1v1h-1zM151 222h1v1h-1zM152 223h1v1h-1zM153 224h1v1h-1zM156 226h1v1h-1zM157 227h1v1h-1zM160 229h1v1h-1zM161 230h1v1h-1zM162 231h1v2h-1zM163 233h1v2h-1zM164 235h1v1h-1zM165 236h1v2h-1zM166 238h1v1h-1zM167 239h1v1h-1zM168 240h1v1h-1zM169 241h1v1h-1zM170 242h1v1h-1zM171 243h1v2h-1zM172 245h1v1h-1zM173 246h1v1h-1zM174 247h1v1h-1zM175 248h1v1h-1zM176 249h1v1h-1zM177 250h1v1h-1zM178 251h1v1h-1zM179 252h1v2h-1zM180 254h1v1h-1zM181 255h1v1h-1zM182 256h1v1h-1zM183 257h1v2h-1zM184 259h1v1h-1zM185 260h1v2h-1zM186 262h1v2h-1zM187 264h1v2h-1zM188 266h1v2h-1zM189 268h1v2h-1zM190 270h1v2h-1zM191 272h1v2h-1zM192 274h1v2h-1zM193 276h1v2h-1zM194 278h1v2h-1zM195 280h1v2h-1zM196 282h1v2h-1zM197 284h1v2h-1zM198 286h1v2h-1zM199 288h1v2h-1zM200 290h1v2h-1zM241 298h1v1h-1zM244 296h1v1h-1zM245 295h1v1h-1zM248 293h1v1h-1zM249 292h1v1h-1zM250 291h1v1h-1zM251 290h1v1h-1zM252 289h1v1h-1zM253 288h1v1h-1zM254 287h1v1h-1zM255 286h1v1h-1zM256 285h1v1h-1zM265 280h1v1h-1zM266 279h1v1h-1zM267 278h1v1h-1zM268 277h1v1h-1zM269 276h1v1h-1zM270 275h1v1h-1zM271 274h1v1h-1zM272 273h1v1h-1zM308 268h1v1h-1zM309 269h1v1h-1zM312 271h1v1h-1zM313 272h1v1h-1zM314 273h1v1h-1zM315 274h1v2h-1zM316 276h1v1h-1zM317 277h1v1h-1zM318 278h1v1h-1zM319 279h1v2h-1zM320 281h1v1h-1zM321 282h1v1h-1zM322 283h1v1h-1zM323 284h1v1h-1zM324 285h1v1h-1zM325 286h1v1h-1zM326 287h1v1h-1zM327 288h1v1h-1zM328 289h1v1h-1zM329 290h1v1h-1zM330 291h1v2h-1zM331 293h1v1h-1zM332 294h1v2h-1zM333 296h1v1h-1zM334 297h1v2h-1zM335 299h1v1h-1zM336 300h1v2h-1zM337 302h1v1h-1zM340 304h1v1h-1zM341 305h1v1h-1zM344 307h1v1h-1zM345 308h1v1h-1zM348 310h1v1h-1zM349 311h1v1h-1zM352 313h1v1h-1zM353 314h1v1h-1zM354 315h1v1h-1zM355 316h1v2h-1zM356 318h1v1h-1zM357 319h1v1h-1zM358 320h1v1h-1zM359 321h1v2h-1zM360 323h1v1h-1zM361 324h1v1h-1zM362 325h1v1h-1zM363 326h1v2h-1zM364 328h1v1h-1zM365 329h1v1h-1zM366 330h1v1h-1zM367 331h1v2h-1zM368 333h1v1h-1zM369 334h1v1h-1zM370 335h1v1h-1zM371 336h1v1h-1zM374 338h1v1h-1zM375 339h1v1h-1zM376 340h1v1h-1zM377 341h1v1h-1zM378 342h1v2h-1zM379 344h1v1h-1zM380 345h1v1h-1zM381 346h1v2h-1zM382 348h1v1h-1zM383 349h1v1h-1zM384 350h1v2h-1zM401 359h1v1h-1zM406 362h1v1h-1zM420 362h1v1h-1zM421 361h1v1h-1zM424 359h1v1h-1zM425 358h1v1h-1zM426 357h1v1h-1zM427 356h1v1h-1zM428 355h1v1h-1zM429 353h1v2h-1zM430 352h1v1h-1zM431 351h1v1h-1zM432 350h1v1h-1zM433 349h1v1h-1zM434 348h1v1h-1zM435 347h1v1h-1zM438 345h1v1h-1zM439 344h1v1h-1zM440 343h1v1h-1zM540 358h1v1h-1zM541 359h1v1h-1zM544 361h1v1h-1zM545 362h1v1h-1zM546 363h1v1h-1zM547 364h1v1h-1zM550 366h1v1h-1zM551 367h1v1h-1zM552 368h1v1h-1zM553 369h1v1h-1zM554 370h1v1h-1zM555 371h1v1h-1zM558 373h1v1h-1zM559 374h1v1h-1zM560 375h1v1h-1zM580 376h1v1h-1zM581 375h1v1h-1zM584 373h1v1h-1zM585 372h1v1h-1zM586 371h1v1h-1zM587 370h1v1h-1zM588 369h1v1h-1zM589 368h1v1h-1zM590 367h1v1h-1zM591 366h1v1h-1zM592 365h1v1h-1zM593 364h1v1h-1zM598 361h1v1h-1zM601 359h1v1h-1zM602 357h1v2h-1zM603 356h1v1h-1zM604 355h1v1h-1zM605 353h1v2h-1zM606 352h1v1h-1zM607 351h1v1h-1zM608 349h1v2h-1zM609 347h1v2h-1zM610 345h1v2h-1zM611 343h1v2h-1zM612 341h1v2h-1zM613 339h1v2h-1zM614 337h1v2h-1zM615 335h1v2h-1zM616 333h1v2h-1zM617 332h1v1h-1zM618 331h1v1h-1zM619 329h1v2h-1zM620 328h1v1h-1zM621 327h1v1h-1zM622 326h1v1h-1zM623 324h1v2h-1zM624 323h1v1h-1zM625 322h1v1h-1zM626 321h1v1h-1zM627 319h1v2h-1zM628 318h1v1h-1zM629 317h1v1h-1zM630 316h1v1h-1zM631 314h1v2h-1zM632 313h1v1h-1zM633 312h1v1h-1zM634 311h1v1h-1zM635 310h1v1h-1zM636 309h1v1h-1zM637 308h1v1h-1zM638 307h1v1h-1zM639 306h1v1h-1zM640 305h1v1h-1zM641 304h1v1h-1zM642 303h1v1h-1zM643 301h1v2h-1zM644 300h1v1h-1zM645 299h1v1h-1zM646 298h1v1h-1zM647 296h1v2h-1zM648 295h1v1h-1zM649 294h1v1h-1zM650 293h1v1h-1zM651 291h1v2h-1zM652 290h1v1h-1zM653 289h1v1h-1zM654 288h1v1h-1zM655 286h1v2h-1zM656 285h1v1h-1zM657 284h1v1h-1zM662 281h1v1h-1zM665 279h1v1h-1zM666 278h1v1h-1zM667 277h1v1h-1zM670 275h1v1h-1zM671 274h1v1h-1zM672 273h1v1h-1zM673 272h1v1h-1zM676 270h1v1h-1zM677 269h1v1h-1zM680 267h1v1h-1zM700 264h1v1h-1zM701 263h1v1h-1zM704 261h1v1h-1zM705 260h1v1h-1zM706 259h1v1h-1zM707 257h1v2h-1zM708 256h1v1h-1zM709 255h1v1h-1zM710 254h1v1h-1zM711 252h1v2h-1zM712 251h1v1h-1zM713 250h1v1h-1zM714 249h1v1h-1zM715 248h1v1h-1zM716 247h1v1h-1zM717 246h1v1h-1zM718 245h1v1h-1zM719 244h1v1h-1zM720 243h1v1h-1zM721 242h1v1h-1zM724 240h1v1h-1zM725 239h1v1h-1zM728 237h1v1h-1zM729 236h1v1h-1zM734 233h1v1h-1zM754 223h1v1h-1zM755 222h1v1h-1zM756 221h1v1h-1zM757 220h1v1h-1zM758 219h1v1h-1zM759 218h1v1h-1zM760 217h1v1h-1zM761 216h1v1h-1zM764 214h1v1h-1zM765 213h1v1h-1zM768 211h1v1h-1zM769 210h1v1h-1zM770 209h1v1h-1zM771 208h1v1h-1zM772 207h1v1h-1zM773 206h1v1h-1zM774 205h1v1h-1zM775 204h1v1h-1zM776 203h1v1h-1zM777 202h1v1h-1zM780 200h1v1h-1zM781 199h1v1h-1zM784 197h1v1h-1zM793 192h1v1h-1zM794 191h1v1h-1zM795 190h1v1h-1zM796 189h1v1h-1zM797 188h1v1h-1zM798 187h1v1h-1zM799 186h1v1h-1zM800 185h1v1h-1zM817 190h1v1h-1zM818 191h1v2h-1zM819 193h1v2h-1zM820 195h1v1h-1zM821 196h1v2h-1zM822 198h1v1h-1zM823 199h1v2h-1zM824 201h1v2h-1zM825 203h1v2h-1zM826 205h1v2h-1zM827 207h1v2h-1zM828 209h1v2h-1zM829 211h1v2h-1zM830 213h1v2h-1zM831 215h1v2h-1zM832 217h1v2h-1zM833 219h1v1h-1zM834 220h1v2h-1zM835 222h1v1h-1zM836 223h1v1h-1zM837 224h1v2h-1zM838 226h1v1h-1zM839 227h1v1h-1zM840 228h1v2h-1zM841 230h1v1h-1zM842 231h1v2h-1zM843 233h1v1h-1zM844 234h1v1h-1zM845 235h1v2h-1zM846 237h1v1h-1zM847 238h1v1h-1zM848 239h1v2h-1zM849 241h1v1h-1zM850 242h1v1h-1zM851 243h1v1h-1zM852 244h1v1h-1zM853 245h1v2h-1zM854 247h1v1h-1zM855 248h1v1h-1zM856 249h1v1h-1zM857 250h1v1h-1zM858 251h1v1h-1zM859 252h1v1h-1zM860 253h1v1h-1zM861 254h1v2h-1zM862 256h1v1h-1zM863 257h1v1h-1zM864 258h1v1h-1zM865 259h1v1h-1zM866 260h1v1h-1zM867 261h1v1h-1zM868 262h1v1h-1zM869 263h1v2h-1zM870 265h1v1h-1zM871 266h1v1h-1zM872 267h1v1h-1zM873 268h1v1h-1zM874 269h1v2h-1zM875 271h1v1h-1zM876 272h1v2h-1zM877 274h1v1h-1zM878 275h1v2h-1zM879 277h1v1h-1zM880 278h1v2h-1zM881 280h1v1h-1zM886 283h1v1h-1zM900 290h1v1h-1zM901 291h1v1h-1zM904 293h1v1h-1zM905 294h1v1h-1zM908 296h1v1h-1zM909 297h1v1h-1zM912 299h1v1h-1zM922 302h1v1h-1zM923 303h1v1h-1zM926 305h1v1h-1zM927 306h1v1h-1zM928 307h1v1h-1zM929 308h1v1h-1zM932 310h1v1h-1zM933 311h1v1h-1zM936 313h1v1h-1zM945 318h1v1h-1zM946 319h1v2h-1zM947 321h1v1h-1zM948 322h1v1h-1zM949 323h1v2h-1zM950 325h1v1h-1zM951 326h1v1h-1zM952 327h1v2h-1zM953 329h1v1h-1zM954 330h1v2h-1zM955 332h1v1h-1zM956 333h1v1h-1zM957 334h1v2h-1zM958 336h1v1h-1zM959 337h1v1h-1zM960 338h1v2h-1zM961 340h1v1h-1zM962 341h1v1h-1zM963 342h1v2h-1zM964 344h1v1h-1zM965 345h1v1h-1zM966 346h1v1h-1zM967 347h1v2h-1zM968 349h1v1h-1zM969 350h1v1h-1zM970 351h1v2h-1zM971 353h1v1h-1zM972 354h1v2h-1zM973 356h1v1h-1zM974 357h1v2h-1zM975 359h1v1h-1zM976 360h1v2h-1zM977 362h1v1h-1zM978 363h1v2h-1zM979 365h1v2h-1zM980 367h1v2h-1zM981 369h1v1h-1zM982 370h1v2h-1zM983 372h1v2h-1zM984 374h1v2h-1zM985 376h1v1h-1zM986 377h1v1h-1zM987 378h1v2h-1zM988 380h1v1h-1zM989 381h1v1h-1zM990 382h1v1h-1zM991 383h1v2h-1zM992 385h1v1h-1zM993 386h1v1h-1zM994 387h1v2h-1zM995 389h1v1h-1zM996 390h1v1h-1zM997 391h1v2h-1zM998 393h1v1h-1zM999 394h1v1h-1zM1000 395h1v2h-1zM1001 397h1v1h-1zM1002 398h1v2h-1zM1003 400h1v2h-1zM1004 402h1v2h-1zM1005 404h1v1h-1zM1006 405h1v2h-1zM1007 407h1v2h-1zM1008 409h1v2h-1zM1041 406h1v1h-1zM1046 403h1v1h-1zM1049 401h1v1h-1zM1054 398h1v1h-1zM1057 396h1v1h-1zM1058 395h1v1h-1zM1059 394h1v1h-1zM1060 393h1v1h-1zM1061 392h1v1h-1zM1062 391h1v1h-1zM1063 390h1v1h-1zM1064 389h1v1h-1z" fill="#ff0000"/>
<path d="M761 133h5v1h-5zM766 134h4v1h-4zM89 168h3v1h-3zM92 169h4v1h-4zM96 170h3v1h-3zM99 171h2v1h-2zM101 172h2v1h-2zM103 173h2v1h-2zM105 174h5v1h-5zM110 175h4v1h-4zM646 226h2v1h-2zM642 229h2v1h-2zM271 240h2v1h-2zM268 242h2v1h-2zM276 242h2v1h-2zM266 243h2v1h-2zM263 245h2v1h-2zM281 246h2v1h-2zM260 247h2v1h-2zM283 247h3v1h-3zM258 248h2v1h-2zM286 248h2v1h-2zM288 249h2v1h-2zM292 252h2v1h-2zM32 266h10v1h-10zM30 267h2v1h-2zM27 268h3v1h-3zM25 269h2v1h-2zM888 284h11v1h-11zM886 285h2v1h-2zM899 285h2v1h-2zM883 286h3v1h-3zM901 286h2v1h-2zM878 287h5v1h-5zM903 287h2v1h-2zM873 288h5v1h-5zM834 289h2v1h-2zM871 289h2v1h-2zM232 290h2v1h-2zM869 290h2v1h-2zM230 291h2v1h-2zM867 291h2v1h-2zM227 292h3v1h-3zM838 292h2v1h-2zM865 292h2v1h-2zM225 293h2v1h-2zM842 295h2v1h-2zM844 296h2v1h-2zM847 298h2v1h-2zM849 299h2v1h-2zM851 300h3v1h-3zM697 301h9v1h-9zM854 301h2v1h-2zM856 302h2v1h-2zM170 310h2v1h-2zM172 311h2v1h-2zM175 313h2v1h-2zM178 315h2v1h-2zM180 316h2v1h-2zM206 316h2v1h-2zM183 318h2v1h-2zM185 319h5v1h-5zM202 319h2v1h-2zM190 320h12v1h-12zM456 322h3v1h-3zM454 323h2v1h-2zM459 323h3v1h-3zM451 324h3v1h-3zM462 324h2v1h-2zM446 325h5v1h-5zM464 325h2v1h-2zM441 326h5v1h-5zM428 338h2v1h-2zM398 350h6v1h-6zM416 350h2v1h-2zM393 351h5v1h-5zM404 351h4v1h-4zM412 351h4v1h-4zM408 352h4v1h-4zM383 361h2v1h-2zM380 363h2v1h-2zM378 364h2v1h-2zM537 364h10v1h-10zM535 365h2v1h-2zM547 365h2v1h-2zM549 366h2v1h-2zM532 367h2v1h-2zM551 367h2v1h-2zM530 368h2v1h-2zM553 368h2v1h-2zM555 369h2v1h-2zM557 370h2v1h-2zM348 371h2v1h-2zM559 371h2v1h-2zM561 372h3v1h-3zM498 373h2v1h-2zM564 373h4v1h-4zM568 374h2v1h-2zM353 375h2v1h-2zM368 375h2v1h-2zM355 376h3v1h-3zM366 376h2v1h-2zM502 376h2v1h-2zM358 377h2v1h-2zM363 377h3v1h-3zM572 377h2v1h-2zM360 378h3v1h-3zM505 378h2v1h-2zM507 379h2v1h-2zM519 379h2v1h-2zM509 380h2v1h-2zM517 380h2v1h-2zM511 381h2v1h-2zM515 381h2v1h-2zM513 382h2v1h-2zM994 438h2v1h-2zM996 439h2v1h-2zM999 441h2v1h-2zM1001 442h2v1h-2zM1003 443h3v1h-3zM1006 444h2v1h-2zM1008 445h2v1h-2zM1 220h1v2h-1zM2 222h1v2h-1zM3 224h1v3h-1zM4 227h1v2h-1zM5 229h1v3h-1zM6 232h1v2h-1zM7 234h1v3h-1zM8 237h1v2h-1zM9 239h1v3h-1zM10 242h1v2h-1zM11 244h1v2h-1zM12 246h1v2h-1zM13 248h1v2h-1zM14 250h1v2h-1zM15 252h1v2h-1zM16 254h1v2h-1zM17 256h1v1h-1zM18 257h1v2h-1zM19 259h1v2h-1zM20 261h1v1h-1zM21 262h1v2h-1zM22 264h1v1h-1zM23 265h1v2h-1zM24 267h1v2h-1zM41 265h1v1h-1zM42 263h1v2h-1zM43 260h1v3h-1zM44 258h1v2h-1zM45 255h1v3h-1zM46 253h1v2h-1zM47 250h1v3h-1zM48 248h1v2h-1zM49 245h1v3h-1zM50 243h1v2h-1zM51 241h1v2h-1zM52 240h1v1h-1zM53 238h1v2h-1zM54 236h1v2h-1zM55 235h1v1h-1zM56 233h1v2h-1zM57 231h1v2h-1zM58 229h1v2h-1zM59 227h1v2h-1zM60 225h1v2h-1zM61 223h1v2h-1zM62 221h1v2h-1zM63 219h1v2h-1zM64 217h1v2h-1zM65 215h1v2h-1zM66 213h1v2h-1zM67 211h1v2h-1zM68 209h1v2h-1zM69 207h1v2h-1zM70 205h1v2h-1zM71 203h1v2h-1zM72 201h1v2h-1zM73 199h1v2h-1zM74 196h1v3h-1zM75 193h1v3h-1zM76 190h1v3h-1zM77 187h1v3h-1zM78 184h1v3h-1zM79 181h1v3h-1zM80 178h1v3h-1zM81 176h1v2h-1zM82 175h1v1h-1zM83 174h1v1h-1zM84 173h1v1h-1zM85 172h1v1h-1zM86 171h1v1h-1zM87 170h1v1h-1zM88 169h1v1h-1zM114 176h1v1h-1zM115 177h1v2h-1zM116 179h1v1h-1zM117 180h1v1h-1zM118 181h1v1h-1zM119 182h1v2h-1zM120 184h1v1h-1zM121 185h1v1h-1zM122 186h1v2h-1zM123 188h1v2h-1zM124 190h1v2h-1zM125 192h1v2h-1zM126 194h1v2h-1zM127 196h1v2h-1zM128 198h1v2h-1zM129 200h1v2h-1zM130 202h1v4h-1zM131 206h1v4h-1zM132 210h1v3h-1zM133 213h1v4h-1zM134 217h1v4h-1zM135 221h1v4h-1zM136 225h1v4h-1zM137 229h1v4h-1zM138 233h1v4h-1zM139 237h1v4h-1zM140 241h1v4h-1zM141 245h1v4h-1zM142 249h1v4h-1zM143 253h1v4h-1zM144 257h1v4h-1zM145 261h1v2h-1zM146 263h1v2h-1zM147 265h1v2h-1zM148 267h1v2h-1zM149 269h1v1h-1zM150 270h1v2h-1zM151 272h1v2h-1zM152 274h1v2h-1zM153 276h1v1h-1zM154 277h1v2h-1zM155 279h1v2h-1zM156 281h1v2h-1zM157 283h1v1h-1zM158 284h1v2h-1zM159 286h1v2h-1zM160 288h1v2h-1zM161 290h1v2h-1zM162 292h1v2h-1zM163 294h1v2h-1zM164 296h1v3h-1zM165 299h1v2h-1zM166 301h1v3h-1zM167 304h1v2h-1zM168 306h1v2h-1zM169 308h1v2h-1zM174 312h1v1h-1zM177 314h1v1h-1zM182 317h1v1h-1zM204 318h1v1h-1zM205 317h1v1h-1zM208 315h1v1h-1zM209 314h1v1h-1zM210 313h1v1h-1zM211 311h1v2h-1zM212 310h1v1h-1zM213 309h1v1h-1zM214 308h1v1h-1zM215 306h1v2h-1zM216 305h1v1h-1zM217 304h1v1h-1zM218 302h1v2h-1zM219 301h1v1h-1zM220 300h1v1h-1zM221 298h1v2h-1zM222 297h1v1h-1zM223 296h1v1h-1zM224 294h1v2h-1zM234 288h1v2h-1zM235 286h1v2h-1zM236 284h1v2h-1zM237 283h1v1h-1zM238 281h1v2h-1zM239 279h1v2h-1zM240 277h1v2h-1zM241 276h1v1h-1zM242 274h1v2h-1zM243 272h1v2h-1zM244 270h1v2h-1zM245 269h1v1h-1zM246 267h1v2h-1zM247 265h1v2h-1zM248 263h1v2h-1zM249 262h1v1h-1zM250 260h1v2h-1zM251 258h1v2h-1zM252 257h1v1h-1zM253 255h1v2h-1zM254 254h1v1h-1zM255 252h1v2h-1zM256 250h1v2h-1zM257 249h1v1h-1zM262 246h1v1h-1zM265 244h1v1h-1zM270 241h1v1h-1zM273 239h1v1h-1zM274 240h1v1h-1zM275 241h1v1h-1zM278 243h1v1h-1zM279 244h1v1h-1zM280 245h1v1h-1zM290 250h1v1h-1zM291 251h1v1h-1zM294 253h1v1h-1zM295 254h1v1h-1zM296 255h1v1h-1zM297 256h1v1h-1zM298 257h1v2h-1zM299 259h1v1h-1zM300 260h1v2h-1zM301 262h1v1h-1zM302 263h1v2h-1zM303 265h1v1h-1zM304 266h1v2h-1zM305 268h1v2h-1zM306 270h1v4h-1zM307 274h1v3h-1zM308 277h1v4h-1zM309 281h1v3h-1zM310 284h1v4h-1zM311 288h1v3h-1zM312 291h1v4h-1zM313 295h1v3h-1zM314 298h1v3h-1zM315 301h1v3h-1zM316 304h1v3h-1zM317 307h1v3h-1zM318 310h1v3h-1zM319 313h1v3h-1zM320 316h1v3h-1zM321 319h1v3h-1zM322 322h1v3h-1zM323 325h1v2h-1zM324 327h1v3h-1zM325 330h1v3h-1zM326 333h1v3h-1zM327 336h1v2h-1zM328 338h1v3h-1zM329 341h1v2h-1zM330 343h1v2h-1zM331 345h1v2h-1zM332 347h1v2h-1zM333 349h1v1h-1zM334 350h1v2h-1zM335 352h1v2h-1zM336 354h1v2h-1zM337 356h1v1h-1zM338 357h1v2h-1zM339 359h1v1h-1zM340 360h1v2h-1zM341 362h1v1h-1zM342 363h1v2h-1zM343 365h1v1h-1zM344 366h1v2h-1zM345 368h1v1h-1zM346 369h1v1h-1zM347 370h1v1h-1zM350 372h1v1h-1zM351 373h1v1h-1zM352 374h1v1h-1zM370 374h1v1h-1zM371 372h1v2h-1zM372 371h1v1h-1zM373 370h1v1h-1zM374 369h1v1h-1zM375 367h1v2h-1zM376 366h1v1h-1zM377 365h1v1h-1zM382 362h1v1h-1zM385 360h1v1h-1zM386 359h1v1h-1zM387 358h1v1h-1zM388 357h1v1h-1zM389 355h1v2h-1zM390 354h1v1h-1zM391 353h1v1h-1zM392 352h1v1h-1zM418 349h1v1h-1zM419 348h1v1h-1zM420 347h1v1h-1zM421 345h1v2h-1zM422 344h1v1h-1zM423 343h1v1h-1zM424 342h1v1h-1zM425 341h1v1h-1zM426 340h1v1h-1zM427 339h1v1h-1zM430 337h1v1h-1zM431 336h1v1h-1zM432 335h1v1h-1zM433 334h1v1h-1zM434 333h1v1h-1zM435 332h1v1h-1zM436 331h1v1h-1zM437 330h1v1h-1zM438 329h1v1h-1zM439 328h1v1h-1zM440 327h1v1h-1zM466 326h1v1h-1zM467 327h1v2h-1zM468 329h1v1h-1zM469 330h1v1h-1zM470 331h1v1h-1zM471 332h1v2h-1zM472 334h1v1h-1zM473 335h1v1h-1zM474 336h1v2h-1zM475 338h1v2h-1zM476 340h1v1h-1zM477 341h1v2h-1zM478 343h1v1h-1zM479 344h1v2h-1zM480 346h1v2h-1zM481 348h1v1h-1zM482 349h1v2h-1zM483 351h1v1h-1zM484 352h1v2h-1zM485 354h1v1h-1zM486 355h1v2h-1zM487 357h1v1h-1zM488 358h1v2h-1zM489 360h1v1h-1zM490 361h1v2h-1zM491 363h1v1h-1zM492 364h1v2h-1zM493 366h1v1h-1zM494 367h1v2h-1zM495 369h1v1h-1zM496 370h1v2h-1zM497 372h1v1h-1zM500 374h1v1h-1zM501 375h1v1h-1zM504 377h1v1h-1zM521 378h1v1h-1zM522 377h1v1h-1zM523 376h1v1h-1zM524 375h1v1h-1zM525 373h1v2h-1zM526 372h1v1h-1zM527 371h1v1h-1zM528 370h1v1h-1zM529 369h1v1h-1zM534 366h1v1h-1zM570 375h1v1h-1zM571 376h1v1h-1zM574 378h1v1h-1zM575 379h1v1h-1zM576 380h1v1h-1zM577 381h1v1h-1zM578 380h1v1h-1zM579 379h1v1h-1zM580 378h1v1h-1zM581 377h1v1h-1zM582 376h1v1h-1zM583 375h1v1h-1zM584 374h1v1h-1zM585 373h1v1h-1zM586 372h1v1h-1zM587 370h1v2h-1zM588 369h1v1h-1zM589 368h1v1h-1zM590 367h1v1h-1zM591 365h1v2h-1zM592 364h1v1h-1zM593 363h1v1h-1zM594 362h1v1h-1zM595 361h1v1h-1zM596 360h1v1h-1zM597 359h1v1h-1zM598 358h1v1h-1zM599 355h1v3h-1zM600 351h1v4h-1zM601 348h1v3h-1zM602 346h1v2h-1zM603 344h1v2h-1zM604 341h1v3h-1zM605 339h1v2h-1zM606 336h1v3h-1zM607 334h1v2h-1zM608 332h1v2h-1zM609 328h1v4h-1zM610 324h1v4h-1zM611 320h1v4h-1zM612 316h1v4h-1zM613 311h1v5h-1zM614 307h1v4h-1zM615 303h1v4h-1zM616 299h1v4h-1zM617 295h1v4h-1zM618 291h1v4h-1zM619 288h1v3h-1zM620 285h1v3h-1zM621 281h1v4h-1zM622 278h1v3h-1zM623 275h1v3h-1zM624 271h1v4h-1zM625 268h1v3h-1zM626 266h1v2h-1zM627 263h1v3h-1zM628 260h1v3h-1zM629 258h1v2h-1zM630 255h1v3h-1zM631 252h1v3h-1zM632 250h1v2h-1zM633 247h1v3h-1zM634 245h1v2h-1zM635 243h1v2h-1zM636 241h1v2h-1zM637 238h1v3h-1zM638 236h1v2h-1zM639 234h1v2h-1zM640 232h1v2h-1zM641 230h1v2h-1zM644 228h1v1h-1zM645 227h1v1h-1zM648 225h1v1h-1zM649 224h1v1h-1zM650 223h1v1h-1zM651 222h1v1h-1zM652 221h1v1h-1zM653 220h1v1h-1zM654 219h1v1h-1zM655 218h1v1h-1zM656 217h1v1h-1zM657 216h1v1h-1zM658 217h1v2h-1zM659 219h1v1h-1zM660 220h1v2h-1zM661 222h1v1h-1zM662 223h1v2h-1zM663 225h1v1h-1zM664 226h1v2h-1zM665 228h1v2h-1zM666 230h1v2h-1zM667 232h1v2h-1zM668 234h1v2h-1zM669 236h1v3h-1zM670 239h1v2h-1zM671 241h1v2h-1zM672 243h1v2h-1zM673 245h1v3h-1zM674 248h1v2h-1zM675 250h1v2h-1zM676 252h1v2h-1zM677 254h1v3h-1zM678 257h1v2h-1zM679 259h1v2h-1zM680 261h1v2h-1zM681 263h1v3h-1zM682 266h1v2h-1zM683 268h1v2h-1zM684 270h1v3h-1zM685 273h1v2h-1zM686 275h1v3h-1zM687 278h1v2h-1zM688 280h1v2h-1zM689 282h1v3h-1zM690 285h1v2h-1zM691 287h1v2h-1zM692 289h1v2h-1zM693 291h1v3h-1zM694 294h1v2h-1zM695 296h1v2h-1zM696 298h1v2h-1zM697 300h1v1h-1zM705 300h1v1h-1zM706 298h1v2h-1zM707 296h1v2h-1zM708 294h1v2h-1zM709 291h1v3h-1zM710 289h1v2h-1zM711 287h1v2h-1zM712 285h1v2h-1zM713 282h1v3h-1zM714 278h1v4h-1zM715 274h1v4h-1zM716 271h1v3h-1zM717 267h1v4h-1zM718 264h1v3h-1zM719 260h1v4h-1zM720 256h1v4h-1zM721 253h1v3h-1zM722 249h1v4h-1zM723 245h1v4h-1zM724 241h1v4h-1zM725 238h1v3h-1zM726 234h1v4h-1zM727 230h1v4h-1zM728 226h1v4h-1zM729 223h1v3h-1zM730 219h1v4h-1zM731 216h1v3h-1zM732 213h1v3h-1zM733 209h1v4h-1zM734 206h1v3h-1zM735 203h1v3h-1zM736 199h1v4h-1zM737 196h1v3h-1zM738 192h1v4h-1zM739 189h1v3h-1zM740 186h1v3h-1zM741 182h1v4h-1zM742 179h1v3h-1zM743 176h1v3h-1zM744 172h1v4h-1zM745 169h1v3h-1zM746 166h1v3h-1zM747 163h1v3h-1zM748 160h1v3h-1zM749 157h1v3h-1zM750 154h1v3h-1zM751 151h1v3h-1zM752 148h1v3h-1zM753 146h1v2h-1zM754 144h1v2h-1zM755 142h1v2h-1zM756 141h1v1h-1zM757 139h1v2h-1zM758 138h1v1h-1zM759 136h1v2h-1zM760 134h1v2h-1zM769 135h1v1h-1zM770 136h1v2h-1zM771 138h1v2h-1zM772 140h1v2h-1zM773 142h1v2h-1zM774 144h1v2h-1zM775 146h1v2h-1zM776 148h1v2h-1zM777 150h1v2h-1zM778 152h1v2h-1zM779 154h1v2h-1zM780 156h1v3h-1zM781 159h1v2h-1zM782 161h1v3h-1zM783 164h1v2h-1zM784 166h1v2h-1zM785 168h1v2h-1zM786 170h1v2h-1zM787 172h1v2h-1zM788 174h1v2h-1zM789 176h1v2h-1zM790 178h1v2h-1zM791 180h1v2h-1zM792 182h1v2h-1zM793 184h1v1h-1zM794 185h1v2h-1zM795 187h1v2h-1zM796 189h1v2h-1zM797 191h1v1h-1zM798 192h1v2h-1zM799 194h1v2h-1zM800 196h1v2h-1zM801 198h1v2h-1zM802 200h1v3h-1zM803 203h1v3h-1zM804 206h1v3h-1zM805 209h1v3h-1zM806 212h1v3h-1zM807 215h1v3h-1zM808 218h1v3h-1zM809 221h1v3h-1zM810 224h1v3h-1zM811 227h1v4h-1zM812 231h1v3h-1zM813 234h1v3h-1zM814 237h1v3h-1zM815 240h1v4h-1zM816 244h1v3h-1zM817 247h1v3h-1zM818 250h1v3h-1zM819 253h1v4h-1zM820 257h1v3h-1zM821 260h1v3h-1zM822 263h1v3h-1zM823 266h1v4h-1zM824 270h1v3h-1zM825 273h1v2h-1zM826 275h1v2h-1zM827 277h1v2h-1zM828 279h1v2h-1zM829 281h1v1h-1zM830 282h1v2h-1zM831 284h1v2h-1zM832 286h1v2h-1zM833 288h1v1h-1zM836 290h1v1h-1zM837 291h1v1h-1zM840 293h1v1h-1zM841 294h1v1h-1zM846 297h1v1h-1zM858 301h1v1h-1zM859 299h1v2h-1zM860 298h1v1h-1zM861 297h1v1h-1zM862 296h1v1h-1zM863 294h1v2h-1zM864 293h1v1h-1zM905 288h1v1h-1zM906 289h1v1h-1zM907 290h1v2h-1zM908 292h1v1h-1zM909 293h1v1h-1zM910 294h1v1h-1zM911 295h1v2h-1zM912 297h1v1h-1zM913 298h1v1h-1zM914 299h1v2h-1zM915 301h1v1h-1zM916 302h1v2h-1zM917 304h1v1h-1zM918 305h1v2h-1zM919 307h1v1h-1zM920 308h1v2h-1zM921 310h1v2h-1zM922 312h1v2h-1zM923 314h1v2h-1zM924 316h1v2h-1zM925 318h1v3h-1zM926 321h1v2h-1zM927 323h1v2h-1zM928 325h1v2h-1zM929 327h1v2h-1zM930 329h1v2h-1zM931 331h1v1h-1zM932 332h1v2h-1zM933 334h1v1h-1zM934 335h1v2h-1zM935 337h1v1h-1zM936 338h1v2h-1zM937 340h1v1h-1zM938 341h1v2h-1zM939 343h1v2h-1zM940 345h1v2h-1zM941 347h1v1h-1zM942 348h1v2h-1zM943 350h1v2h-1zM944 352h1v2h-1zM945 354h1v2h-1zM946 356h1v3h-1zM947 359h1v2h-1zM948 361h1v3h-1zM949 364h1v3h-1zM950 367h1v3h-1zM951 370h1v2h-1zM952 372h1v3h-1zM953 375h1v3h-1zM954 378h1v2h-1zM955 380h1v2h-1zM956 382h1v2h-1zM957 384h1v2h-1zM958 386h1v2h-1zM959 388h1v2h-1zM960 390h1v2h-1zM961 392h1v1h-1zM962 393h1v1h-1zM963 394h1v2h-1zM964 396h1v1h-1zM965 397h1v1h-1zM966 398h1v1h-1zM967 399h1v2h-1zM968 401h1v1h-1zM969 402h1v1h-1zM970 403h1v2h-1zM971 405h1v1h-1zM972 406h1v1h-1zM973 407h1v2h-1zM974 409h1v1h-1zM975 410h1v1h-1zM976 411h1v2h-1zM977 413h1v1h-1zM978 414h1v2h-1zM979 416h1v1h-1zM980 417h1v2h-1zM981 419h1v1h-1zM982 420h1v2h-1zM983 422h1v1h-1zM984 423h1v2h-1zM985 425h1v1h-1zM986 426h1v2h-1zM987 428h1v1h-1zM988 429h1v2h-1zM989 431h1v1h-1zM990 432h1v2h-1zM991 434h1v1h-1zM992 435h1v2h-1zM993 437h1v1h-1zM998 440h1v1h-1zM1009 444h1v1h-1zM1010 442h1v2h-1zM1011 439h1v3h-1zM1012 437h1v2h-1zM1013 434h1v3h-1zM1014 432h1v2h-1zM1015 429h1v3h-1zM1016 427h1v2h-1zM1017 425h1v2h-1zM1018 424h1v1h-1zM1019 423h1v1h-1zM1020 422h1v1h-1zM1021 420h1v2h-1zM1022 419h1v1h-1zM1023 418h1v1h-1zM1024 417h1v1h-1zM1025 416h1v1h-1zM1026 415h1v1h-1zM1027 414h1v1h-1zM1028 413h1v1h-1zM1029 412h1v1h-1zM1030 411h1v1h-1zM1031 410h1v1h-1zM1032 409h1v1h-1zM1033 407h1v2h-1zM1034 404h1v3h-1zM1035 401h1v3h-1zM1036 398h1v3h-1zM1037 395h1v3h-1zM1038 392h1v3h-1zM1039 389h1v3h-1zM1040 386h1v3h-1zM1041 383h1v3h-1zM1042 381h1v2h-1zM1043 379h1v2h-1zM1044 377h1v2h-1zM1045 374h1v3h-1zM1046 372h1v2h-1zM1047 370h1v2h-1zM1048 368h1v2h-1zM1049 365h1v3h-1zM1050 363h1v2h-1zM1051 361h1v2h-1zM1052 359h1v2h-1zM1053 356h1v3h-1zM1054 354h1v2h-1zM1055 352h1v2h-1zM1056 350h1v2h-1zM1057 347h1v3h-1zM1058 345h1v2h-1zM1059 343h1v2h-1zM1060 341h1v2h-1zM1061 339h1v2h-1zM1062 337h1v2h-1zM1063 335h1v2h-1zM1064 333h1v2h-1zM1065 332h1v1h-1zM1066 333h1v2h-1zM1067 335h1v1h-1zM1068 336h1v1h-1zM1069 337h1v2h-1zM1070 339h1v1h-1zM1071 340h1v1h-1zM1072 341h1v2h-1zM1073 343h1v1h-1zM1074 344h1v1h-1zM1075 345h1v2h-1zM1076 347h1v1h-1zM1077 348h1v1h-1zM1078 349h1v1h-1zM1079 350h1v2h-1zM1080 352h1v1h-1zM1081 353h1v1h-1zM1082 354h1v2h-1zM1083 356h1v2h-1zM1084 358h1v2h-1zM1085 360h1v2h-1zM1086 362h1v2h-1zM1087 364h1v2h-1zM1088 366h1v2h-1zM1089 368h1v2h-1zM1090 370h1v2h-1zM1091 372h1v2h-1zM1092 374h1v2h-1zM1093 376h1v3h-1zM1094 379h1v2h-1zM1095 381h1v2h-1zM1096 383h1v2h-1zM1097 385h1v3h-1zM1098 388h1v2h-1zM1099 390h1v2h-1zM1100 392h1v2h-1zM1101 394h1v3h-1zM1102 397h1v2h-1zM1103 399h1v2h-1zM1104 401h1v2h-1zM1105 403h1v3h-1zM1106 406h1v2h-1zM1107 408h1v2h-1zM1108 410h1v3h-1zM1109 413h1v2h-1zM1110 415h1v3h-1zM1111 418h1v2h-1zM1112 420h1v2h-1zM1113 422h1v2h-1z" fill="#0000cd"/>
</g>
<g id="macd">
<rect x="1" y="614" width="1" height="27" fill="#c0c0c0" />
<rect x="9" y="614" width="1" height="31" fill="#c0c0c0" />
<rect x="17" y="614" width="1" height="32" fill="#c0c0c0" />
<rect x="25" y="614" width="1" height="30" fill="#c0c0c0" />
<rect x="33" y="614" width="1" height="25" fill="#c0c0c0" />
<rect x="41" y="614" width="1" height="22" fill="#c0c0c0" />
<rect x="49" y="614" width="1" height="18" fill="#c0c0c0" />
<rect x="57" y="614" width="1" height="16" fill="#c0c0c0" />
<rect x="65" y="614" width="1" height="12" fill="#c0c0c0" />
<rect x="73" y="614" width="1" height="7" fill="#c0c0c0" />
<rect x="81" y="612" width="1" height="3" fill="#c0c0c0" />
<rect x="89" y="608" width="1" height="7" fill="#c0c0c0" />
<rect x="97" y="613" width="1" height="2" fill="#c0c0c0" />
<rect x="105" y="614" width="1" height="1" fill="#c0c0c0" />
<rect x="113" y="614" width="1" height="1" fill="#c0c0c0" />
<rect x="121" y="614" width="1" height="5" fill="#c0c0c0" />
<rect x="129" y="614" width="1" height="12" fill="#c0c0c0" />
<rect x="137" y="614" width="1" height="17" fill="#c0c0c0" />
<rect x="145" y="614" width="1" height="23" fill="#c0c0c0" />
<rect x="153" y="614" width="1" height="27" fill="#c0c0c0" />
<rect x="161" y="614" width="1" height="31" fill="#c0c0c0" />
<rect x="169" y="614" width="1" height="34" fill="#c0c0c0" />
<rect x="177" y="614" width="1" height="32" fill="#c0c0c0" />
<rect x="185" y="614" width="1" height="32" fill="#c0c0c0" />
<rect x="193" y="614" width="1" height="32" fill="#c0c0c0" />
<rect x="201" y="614" width="1" height="31" fill="#c0c0c0" />
<rect x="209" y="614" width="1" height="28" fill="#c0c0c0" />
<rect x="217" y="614" width="1" height="24" fill="#c0c0c0" />
<rect x="225" y="614" width="1" height="20" fill="#c0c0c0" />
<rect x="233" y="614" width="1" height="18" fill="#c0c0c0" />
<rect x="241" y="614" width="1" height="13" fill="#c0c0c0" />
<rect x="249" y="614" width="1" height="8" fill="#c0c0c0" />
<rect x="257" y="614" width="1" height="4" fill="#c0c0c0" />
<rect x="265" y="614" width="1" height="3" fill="#c0c0c0" />
<rect x="273" y="614" width="1" height="1" fill="#c0c0c0" />
<rect x="281" y="614" width="1" height="5" fill="#c0c0c0" />
<rect x="289" y="614" width="1" height="6" fill="#c0c0c0" />
<rect x="297" y="614" width="1" height="7" fill="#c0c0c0" />
<rect x="305" y="614" width="1" height="10" fill="#c0c0c0" />
<rect x="313" y="614" width="1" height="18" fill="#c0c0c0" />
<rect x="321" y="614" width="1" height="26" fill="#c0c0c0" />
<rect x="329" y="614" width="1" height="30" fill="#c0c0c0" />
<rect x="337" y="614" width="1" height="34" fill="#c0c0c0" />
<rect x="345" y="614" width="1" height="33" fill="#c0c0c0" />
<rect x="353" y="614" width="1" height="29" fill="#c0c0c0" />
<rect x="361" y="614" width="1" height="27" fill="#c0c0c0" />
<rect x="369" y="614" width="1" height="27" fill="#c0c0c0" />
<rect x="377" y="614" width="1" height="26" fill="#c0c0c0" />
<rect x="385" y="614" width="1" height="26" fill="#c0c0c0" />
<rect x="393" y="614" width="1" height="23" fill="#c0c0c0" />
<rect x="401" y="614" width="1" height="22" fill="#c0c0c0" />
<rect x="409" y="614" width="1" height="20" fill="#c0c0c0" />
<rect x="417" y="614" width="1" height="17" fill="#c0c0c0" />
<rect x="425" y="614" width="1" height="13" fill="#c0c0c0" />
<rect x="433" y="614" width="1" height="9" fill="#c0c0c0" />
<rect x="441" y="614" width="1" height="7" fill="#c0c0c0" />
<rect x="449" y="614" width="1" height="7" fill="#c0c0c0" />
<rect x="457" y="614" width="1" height="7" fill="#c0c0c0" />
<rect x="465" y="614" width="1" height="10" fill="#c0c0c0" />
<rect x="473" y="614" width="1" height="12" fill="#c0c0c0" />
<rect x="481" y="614" width="1" height="15" fill="#c0c0c0" />
<rect x="489" y="614" width="1" height="16" fill="#c0c0c0" />
<rect x="497" y="614" width="1" height="17" fill="#c0c0c0" />
<rect x="505" y="614" width="1" height="18" fill="#c0c0c0" />
<rect x="513" y="614" width="1" height="17" fill="#c0c0c0" />
<rect x="521" y="614" width="1" height="13" fill="#c0c0c0" />
<rect x="529" y="614" width="1" height="10" fill="#c0c0c0" />
<rect x="537" y="614" width="1" height="9" fill="#c0c0c0" />
<rect x="545" y="614" width="1" height="10" fill="#c0c0c0" />
<rect x="553" y="614" width="1" height="14" fill="#c0c0c0" />
<rect x="561" y="614" width="1" height="17" fill="#c0c0c0" />
<rect x="569" y="614" width="1" height="16" fill="#c0c0c0" />
<rect x="577" y="614" width="1" height="13" fill="#c0c0c0" />
<rect x="585" y="614" width="1" height="7" fill="#c0c0c0" />
<rect x="593" y="614" width="1" height="1" fill="#c0c0c0" />
<rect x="601" y="612" width="1" height="3" fill="#c0c0c0" />
<rect x="609" y="606" width="1" height="9" fill="#c0c0c0" />
<rect x="617" y="596" width="1" height="19" fill="#c0c0c0" />
<rect x="625" y="589" width="1" height="26" fill="#c0c0c0" />
<rect x="633" y="585" width="1" height="30" fill="#c0c0c0" />
<rect x="641" y="581" width="1" height="34" fill="#c0c0c0" />
<rect x="649" y="581" width="1" height="34" fill="#c0c0c0" />
<rect x="657" y="583" width="1" height="32" fill="#c0c0c0" />
<rect x="665" y="591" width="1" height="24" fill="#c0c0c0" />
<rect x="673" y="597" width="1" height="18" fill="#c0c0c0" />
<rect x="681" y="601" width="1" height="14" fill="#c0c0c0" />
<rect x="689" y="607" width="1" height="8" fill="#c0c0c0" />
<rect x="697" y="608" width="1" height="7" fill="#c0c0c0" />
<rect x="705" y="604" width="1" height="11" fill="#c0c0c0" />
<rect x="713" y="594" width="1" height="21" fill="#c0c0c0" />
<rect x="721" y="586" width="1" height="29" fill="#c0c0c0" />
<rect x="729" y="578" width="1" height="37" fill="#c0c0c0" />
<rect x="737" y="575" width="1" height="40" fill="#c0c0c0" />
<rect x="745" y="573" width="1" height="42" fill="#c0c0c0" />
<rect x="753" y="572" width="1" height="43" fill="#c0c0c0" />
<rect x="761" y="571" width="1" height="44" fill="#c0c0c0" />
<rect x="769" y="572" width="1" height="43" fill="#c0c0c0" />
<rect x="777" y="580" width="1" height="35" fill="#c0c0c0" />
<rect x="785" y="586" width="1" height="29" fill="#c0c0c0" />
<rect x="793" y="592" width="1" height="23" fill="#c0c0c0" />
<rect x="801" y="597" width="1" height="18" fill="#c0c0c0" />
<rect x="809" y="606" width="1" height="9" fill="#c0c0c0" />
<rect x="817" y="613" width="1" height="2" fill="#c0c0c0" />
<rect x="825" y="614" width="1" height="5" fill="#c0c0c0" />
<rect x="833" y="614" width="1" height="11" fill="#c0c0c0" />
<rect x="841" y="614" width="1" height="11" fill="#c0c0c0" />
<rect x="849" y="614" width="1" height="11" fill="#c0c0c0" />
<rect x="857" y="614" width="1" height="10" fill="#c0c0c0" />
<rect x="865" y="614" width="1" height="8" fill="#c0c0c0" />
<rect x="873" y="614" width="1" height="7" fill="#c0c0c0" />
<rect x="881" y="614" width="1" height="12" fill="#c0c0c0" />
<rect x="889" y="614" width="1" height="14" fill="#c0c0c0" />
<rect x="897" y="614" width="1" height="12" fill="#c0c0c0" />
<rect x="905" y="614" width="1" height="14" fill="#c0c0c0" />
<rect x="913" y="614" width="1" height="16" fill="#c0c0c0" />
<rect x="921" y="614" width="1" height="18" fill="#c0c0c0" />
<rect x="929" y="614" width="1" height="24" fill="#c0c0c0" />
<rect x="937" y="614" width="1" height="30" fill="#c0c0c0" />
<rect x="945" y="614" width="1" height="33" fill="#c0c0c0" />
<rect x="953" y="614" width="1" height="37" fill="#c0c0c0" />
<rect x="961" y="614" width="1" height="40" fill="#c0c0c0" />
<rect x="969" y="614" width="1" height="40" fill="#c0c0c0" />
<rect x="977" y="614" width="1" height="39" fill="#c0c0c0" />
<rect x="985" y="614" width="1" height="44" fill="#c0c0c0" />
<rect x="993" y="614" width="1" height="48" fill="#c0c0c0" />
<rect x="1001" y="614" width="1" height="47" fill="#c0c0c0" />
<rect x="1009" y="614" width="1" height="47" fill="#c0c0c0" />
<rect x="1017" y="614" width="1" height="34" fill="#c0c0c0" />
<rect x="1025" y="614" width="1" height="27" fill="#c0c0c0" />
<rect x="1033" y="614" width="1" height="21" fill="#c0c0c0" />
<rect x="1041" y="614" width="1" height="18" fill="#c0c0c0" />
<rect x="1049" y="614" width="1" height="13" fill="#c0c0c0" />
<rect x="1057" y="614" width="1" height="9" fill="#c0c0c0" />
<rect x="1065" y="614" width="1" height="6" fill="#c0c0c0" />
<rect x="1073" y="614" width="1" height="6" fill="#c0c0c0" />
<rect x="1081" y="614" width="1" height="9" fill="#c0c0c0" />
<rect x="1089" y="614" width="1" height="14" fill="#c0c0c0" />
<rect x="1097" y="614" width="1" height="19" fill="#c0c0c0" />
<rect x="1105" y="614" width="1" height="24" fill="#c0c0c0" />
<rect x="1113" y="614" width="1" height="27" fill="#c0c0c0" />
<path d="M781 576h3v1h-3zM787 576h3v1h-3zM775 577h2v1h-2zM793 577h3v1h-3zM800 579h2v1h-2zM769 580h2v1h-2zM806 581h2v1h-2zM763 583h2v1h-2zM812 584h2v1h-2zM757 585h3v1h-3zM751 587h2v1h-2zM679 588h3v1h-3zM818 588h2v1h-2zM673 589h3v1h-3zM686 589h2v1h-2zM667 590h3v1h-3zM691 590h3v1h-3zM745 590h2v1h-2zM740 591h2v1h-2zM823 591h2v1h-2zM661 592h2v1h-2zM697 592h3v1h-3zM734 593h2v1h-2zM704 594h2v1h-2zM829 594h2v1h-2zM655 595h2v1h-2zM710 595h2v1h-2zM715 595h3v1h-3zM727 595h3v1h-3zM721 596h3v1h-3zM649 598h2v1h-2zM841 604h2v1h-2zM638 606h2v1h-2zM847 607h2v1h-2zM631 611h2v1h-2zM854 612h2v1h-2zM625 614h2v1h-2zM859 615h3v1h-3zM121 617h3v1h-3zM127 617h3v1h-3zM619 617h2v1h-2zM865 617h2v1h-2zM115 618h3v1h-3zM134 618h2v1h-2zM110 619h2v1h-2zM140 619h2v1h-2zM614 619h2v1h-2zM145 620h2v1h-2zM302 620h2v1h-2zM307 620h3v1h-3zM313 620h3v1h-3zM872 620h2v1h-2zM104 621h2v1h-2zM295 621h3v1h-3zM608 621h2v1h-2zM878 621h2v1h-2zM289 622h3v1h-3zM320 622h2v1h-2zM883 622h3v1h-3zM1 623h2v1h-2zM151 623h2v1h-2zM284 623h2v1h-2zM601 623h3v1h-3zM97 624h2v1h-2zM325 624h2v1h-2zM595 624h3v1h-3zM889 624h3v1h-3zM278 625h2v1h-2zM470 625h2v1h-2zM475 625h3v1h-3zM481 625h3v1h-3zM487 625h3v1h-3zM493 625h3v1h-3zM499 625h3v1h-3zM589 625h3v1h-3zM895 625h3v1h-3zM901 625h3v1h-3zM907 625h3v1h-3zM8 626h2v1h-2zM157 626h2v1h-2zM464 626h2v1h-2zM505 626h3v1h-3zM583 626h3v1h-3zM913 626h3v1h-3zM13 627h3v1h-3zM91 627h2v1h-2zM272 627h2v1h-2zM332 627h2v1h-2zM511 627h3v1h-3zM577 627h3v1h-3zM919 627h3v1h-3zM1094 627h2v1h-2zM1099 627h3v1h-3zM1105 627h3v1h-3zM337 628h2v1h-2zM457 628h3v1h-3zM518 628h2v1h-2zM523 628h3v1h-3zM529 628h3v1h-3zM535 628h3v1h-3zM541 628h3v1h-3zM547 628h3v1h-3zM553 628h3v1h-3zM559 628h3v1h-3zM565 628h3v1h-3zM571 628h3v1h-3zM926 628h2v1h-2zM1111 628h3v1h-3zM20 629h2v1h-2zM163 629h2v1h-2zM451 629h3v1h-3zM932 629h2v1h-2zM1087 629h2v1h-2zM25 630h2v1h-2zM85 630h2v1h-2zM265 630h2v1h-2zM446 630h2v1h-2zM937 630h2v1h-2zM343 631h2v1h-2zM80 632h2v1h-2zM169 632h3v1h-3zM440 632h2v1h-2zM1081 632h2v1h-2zM31 633h2v1h-2zM259 633h2v1h-2zM349 633h3v1h-3zM944 633h2v1h-2zM73 634h3v1h-3zM176 634h2v1h-2zM1075 634h3v1h-3zM37 635h3v1h-3zM253 635h3v1h-3zM355 635h2v1h-2zM433 635h2v1h-2zM950 635h2v1h-2zM181 636h2v1h-2zM427 636h3v1h-3zM44 637h2v1h-2zM67 637h2v1h-2zM247 637h2v1h-2zM421 637h3v1h-3zM956 637h2v1h-2zM1069 637h2v1h-2zM49 638h3v1h-3zM62 638h2v1h-2zM361 638h3v1h-3zM416 638h2v1h-2zM961 638h2v1h-2zM55 639h3v1h-3zM187 639h3v1h-3zM1064 639h2v1h-2zM241 640h2v1h-2zM368 640h2v1h-2zM409 640h3v1h-3zM193 641h2v1h-2zM235 641h3v1h-3zM373 641h3v1h-3zM404 641h2v1h-2zM967 641h2v1h-2zM230 642h2v1h-2zM379 642h3v1h-3zM398 642h2v1h-2zM1057 642h2v1h-2zM385 643h3v1h-3zM391 643h3v1h-3zM200 644h2v1h-2zM205 644h3v1h-3zM211 644h3v1h-3zM217 644h3v1h-3zM223 644h3v1h-3zM974 644h2v1h-2zM979 646h3v1h-3zM985 648h2v1h-2zM1045 649h3v1h-3zM1040 650h2v1h-2zM992 651h2v1h-2zM1033 652h3v1h-3zM998 653h2v1h-2zM1027 654h3v1h-3zM1004 655h2v1h-2zM1022 655h2v1h-2zM1009 656h3v1h-3zM1015 656h3v1h-3zM3 624h1v1h-1zM7 625h1v1h-1zM19 628h1v1h-1zM27 631h1v1h-1zM33 634h1v1h-1zM43 636h1v1h-1zM61 639h1v1h-1zM69 636h1v1h-1zM79 633h1v1h-1zM87 629h1v1h-1zM93 626h1v1h-1zM99 623h1v1h-1zM103 622h1v1h-1zM109 620h1v1h-1zM133 617h1v1h-1zM139 618h1v1h-1zM147 621h1v1h-1zM153 624h1v1h-1zM159 627h1v1h-1zM165 630h1v1h-1zM175 633h1v1h-1zM183 637h1v1h-1zM195 642h1v1h-1zM199 643h1v1h-1zM229 643h1v1h-1zM243 639h1v1h-1zM249 636h1v1h-1zM261 632h1v1h-1zM267 629h1v1h-1zM271 628h1v1h-1zM277 626h1v1h-1zM283 624h1v1h-1zM301 621h1v1h-1zM319 621h1v1h-1zM327 625h1v1h-1zM331 626h1v1h-1zM339 629h1v1h-1zM345 632h1v1h-1zM357 636h1v1h-1zM367 639h1v1h-1zM397 643h1v1h-1zM403 642h1v1h-1zM415 639h1v1h-1zM435 634h1v1h-1zM439 633h1v1h-1zM445 631h1v1h-1zM463 627h1v1h-1zM469 626h1v1h-1zM517 627h1v1h-1zM607 622h1v1h-1zM613 620h1v1h-1zM621 616h1v1h-1zM627 613h1v1h-1zM633 610h1v1h-1zM637 607h1v1h-1zM643 603h1v1h-1zM644 602h1v1h-1zM645 601h1v1h-1zM651 597h1v1h-1zM657 594h1v1h-1zM663 591h1v1h-1zM685 588h1v1h-1zM703 593h1v1h-1zM709 594h1v1h-1zM733 594h1v1h-1zM739 592h1v1h-1zM747 589h1v1h-1zM753 586h1v1h-1zM765 582h1v1h-1zM771 579h1v1h-1zM777 576h1v1h-1zM799 578h1v1h-1zM805 580h1v1h-1zM811 583h1v1h-1zM817 587h1v1h-1zM825 592h1v1h-1zM831 595h1v1h-1zM835 598h1v1h-1zM836 599h1v1h-1zM837 600h1v1h-1zM843 605h1v1h-1zM849 608h1v1h-1zM853 611h1v1h-1zM867 618h1v1h-1zM871 619h1v1h-1zM877 620h1v1h-1zM925 627h1v1h-1zM931 628h1v1h-1zM939 631h1v1h-1zM943 632h1v1h-1zM949 634h1v1h-1zM955 636h1v1h-1zM963 639h1v1h-1zM969 642h1v1h-1zM973 643h1v1h-1zM987 649h1v1h-1zM991 650h1v1h-1zM997 652h1v1h-1zM1003 654h1v1h-1zM1021 656h1v1h-1zM1039 651h1v1h-1zM1051 647h1v1h-1zM1052 646h1v1h-1zM1053 645h1v1h-1zM1059 641h1v1h-1zM1063 640h1v1h-1zM1071 636h1v1h-1zM1083 631h1v1h-1zM1089 628h1v1h-1zM1093 628h1v1h-1z" fill="#ff0000"/>
</g>
<g id="rsi">
<line x1="1" y1="709.5" x2="1416" y2="709.5" stroke="#c0c0c0" stroke-width="1" stroke-dasharray="3 3"/>
<line x1="1" y1="760.5" x2="1416" y2="760.5" stroke="#c0c0c0" stroke-width="1" stroke-dasharray="3 3"/>
<path d="M618 711h2v1h-2zM620 712h2v1h-2zM726 712h4v1h-4zM720 713h6v1h-6zM623 714h2v1h-2zM638 714h4v1h-4zM716 714h4v1h-4zM625 715h13v1h-13zM713 715h3v1h-3zM732 715h2v1h-2zM760 716h2v1h-2zM756 717h4v1h-4zM762 717h2v1h-2zM742 718h14v1h-14zM737 719h5v1h-5zM590 720h4v1h-4zM766 720h2v1h-2zM585 721h5v1h-5zM596 723h2v1h-2zM649 723h2v1h-2zM651 724h3v1h-3zM654 725h2v1h-2zM656 726h2v1h-2zM1017 726h3v1h-3zM254 727h4v1h-4zM72 728h2v1h-2zM246 728h8v1h-8zM258 728h2v1h-2zM70 729h2v1h-2zM241 729h5v1h-5zM260 729h2v1h-2zM1022 729h2v1h-2zM1064 729h2v1h-2zM67 730h3v1h-3zM272 730h2v1h-2zM430 730h8v1h-8zM1060 730h4v1h-4zM64 731h3v1h-3zM263 731h2v1h-2zM268 731h4v1h-4zM424 731h6v1h-6zM438 731h4v1h-4zM521 731h5v1h-5zM1025 731h10v1h-10zM1049 731h11v1h-11zM62 732h2v1h-2zM265 732h3v1h-3zM422 732h2v1h-2zM526 732h5v1h-5zM1035 732h2v1h-2zM1047 732h2v1h-2zM34 733h2v1h-2zM59 733h3v1h-3zM224 733h3v1h-3zM236 733h2v1h-2zM419 733h3v1h-3zM531 733h2v1h-2zM1037 733h2v1h-2zM1045 733h2v1h-2zM36 734h2v1h-2zM48 734h11v1h-11zM220 734h4v1h-4zM227 734h3v1h-3zM417 734h2v1h-2zM444 734h2v1h-2zM533 734h2v1h-2zM1039 734h2v1h-2zM1043 734h2v1h-2zM46 735h2v1h-2zM214 735h6v1h-6zM230 735h2v1h-2zM415 735h2v1h-2zM516 735h2v1h-2zM535 735h2v1h-2zM857 735h13v1h-13zM1041 735h2v1h-2zM39 736h2v1h-2zM43 736h3v1h-3zM209 736h5v1h-5zM232 736h2v1h-2zM413 736h2v1h-2zM782 736h16v1h-16zM855 736h2v1h-2zM870 736h4v1h-4zM41 737h2v1h-2zM111 737h2v1h-2zM114 737h2v1h-2zM296 737h2v1h-2zM411 737h2v1h-2zM454 737h4v1h-4zM680 737h2v1h-2zM777 737h5v1h-5zM798 737h4v1h-4zM853 737h2v1h-2zM109 738h2v1h-2zM294 738h2v1h-2zM353 738h3v1h-3zM393 738h2v1h-2zM408 738h3v1h-3zM449 738h5v1h-5zM569 738h9v1h-9zM676 738h4v1h-4zM682 738h2v1h-2zM841 738h5v1h-5zM851 738h2v1h-2zM107 739h2v1h-2zM291 739h3v1h-3zM356 739h4v1h-4zM391 739h2v1h-2zM395 739h3v1h-3zM406 739h2v1h-2zM670 739h6v1h-6zM684 739h2v1h-2zM846 739h5v1h-5zM97 740h10v1h-10zM118 740h2v1h-2zM289 740h2v1h-2zM300 740h2v1h-2zM350 740h2v1h-2zM360 740h3v1h-3zM389 740h2v1h-2zM398 740h2v1h-2zM403 740h3v1h-3zM665 740h5v1h-5zM1076 740h2v1h-2zM287 741h2v1h-2zM363 741h2v1h-2zM376 741h6v1h-6zM387 741h2v1h-2zM400 741h3v1h-3zM687 741h2v1h-2zM22 742h2v1h-2zM121 742h2v1h-2zM177 742h2v1h-2zM285 742h2v1h-2zM365 742h2v1h-2zM374 742h2v1h-2zM382 742h5v1h-5zM123 743h3v1h-3zM179 743h3v1h-3zM283 743h2v1h-2zM346 743h2v1h-2zM367 743h2v1h-2zM371 743h3v1h-3zM905 743h10v1h-10zM126 744h2v1h-2zM182 744h2v1h-2zM281 744h2v1h-2zM369 744h2v1h-2zM887 744h2v1h-2zM915 744h3v1h-3zM1081 744h2v1h-2zM18 745h2v1h-2zM128 745h3v1h-3zM184 745h6v1h-6zM465 745h2v1h-2zM546 745h2v1h-2zM885 745h2v1h-2zM918 745h2v1h-2zM1083 745h2v1h-2zM131 746h3v1h-3zM190 746h12v1h-12zM467 746h3v1h-3zM480 746h20v1h-20zM883 746h2v1h-2zM920 746h2v1h-2zM1085 746h2v1h-2zM134 747h2v1h-2zM470 747h2v1h-2zM476 747h4v1h-4zM500 747h4v1h-4zM814 747h8v1h-8zM881 747h2v1h-2zM1087 747h2v1h-2zM14 748h2v1h-2zM136 748h4v1h-4zM152 748h3v1h-3zM472 748h4v1h-4zM504 748h2v1h-2zM550 748h2v1h-2zM809 748h5v1h-5zM822 748h6v1h-6zM1089 748h3v1h-3zM140 749h4v1h-4zM148 749h4v1h-4zM155 749h3v1h-3zM828 749h4v1h-4zM975 749h2v1h-2zM1092 749h4v1h-4zM1 750h3v1h-3zM144 750h4v1h-4zM158 750h2v1h-2zM553 750h3v1h-3zM832 750h2v1h-2zM973 750h2v1h-2zM1001 750h9v1h-9zM1096 750h14v1h-14zM4 751h4v1h-4zM10 751h2v1h-2zM160 751h10v1h-10zM556 751h4v1h-4zM971 751h2v1h-2zM1110 751h4v1h-4zM8 752h2v1h-2zM329 752h5v1h-5zM560 752h2v1h-2zM969 752h2v1h-2zM327 753h2v1h-2zM334 753h4v1h-4zM967 753h2v1h-2zM929 754h5v1h-5zM942 754h5v1h-5zM965 754h2v1h-2zM313 755h3v1h-3zM324 755h2v1h-2zM934 755h8v1h-8zM947 755h3v1h-3zM963 755h2v1h-2zM316 756h4v1h-4zM322 756h2v1h-2zM950 756h2v1h-2zM958 756h5v1h-5zM320 757h2v1h-2zM952 757h6v1h-6zM992 758h2v1h-2zM990 759h2v1h-2zM987 760h3v1h-3zM985 761h2v1h-2zM12 750h1v1h-1zM13 749h1v1h-1zM16 747h1v1h-1zM17 746h1v1h-1zM20 744h1v1h-1zM21 743h1v1h-1zM24 741h1v1h-1zM25 740h1v1h-1zM26 739h1v1h-1zM27 738h1v1h-1zM28 737h1v1h-1zM29 736h1v1h-1zM30 735h1v1h-1zM31 734h1v1h-1zM32 733h1v1h-1zM33 732h1v1h-1zM38 735h1v1h-1zM74 726h1v2h-1zM75 725h1v1h-1zM76 723h1v2h-1zM77 722h1v1h-1zM78 720h1v2h-1zM79 719h1v1h-1zM80 717h1v2h-1zM81 716h1v1h-1zM82 717h1v2h-1zM83 719h1v1h-1zM84 720h1v2h-1zM85 722h1v1h-1zM86 723h1v2h-1zM87 725h1v1h-1zM88 726h1v2h-1zM89 728h1v1h-1zM90 729h1v2h-1zM91 731h1v1h-1zM92 732h1v2h-1zM93 734h1v1h-1zM94 735h1v2h-1zM95 737h1v1h-1zM96 738h1v2h-1zM113 736h1v1h-1zM116 738h1v1h-1zM117 739h1v1h-1zM120 741h1v1h-1zM170 750h1v1h-1zM171 749h1v1h-1zM172 748h1v1h-1zM173 746h1v2h-1zM174 745h1v1h-1zM175 744h1v1h-1zM176 743h1v1h-1zM202 745h1v1h-1zM203 743h1v2h-1zM204 742h1v1h-1zM205 741h1v1h-1zM206 740h1v1h-1zM207 738h1v2h-1zM208 737h1v1h-1zM234 735h1v1h-1zM235 734h1v1h-1zM238 732h1v1h-1zM239 731h1v1h-1zM240 730h1v1h-1zM262 730h1v1h-1zM274 731h1v2h-1zM275 733h1v2h-1zM276 735h1v2h-1zM277 737h1v1h-1zM278 738h1v2h-1zM279 740h1v2h-1zM280 742h1v2h-1zM298 738h1v1h-1zM299 739h1v1h-1zM302 741h1v1h-1zM303 742h1v1h-1zM304 743h1v1h-1zM305 744h1v1h-1zM306 745h1v2h-1zM307 747h1v1h-1zM308 748h1v1h-1zM309 749h1v2h-1zM310 751h1v1h-1zM311 752h1v1h-1zM312 753h1v2h-1zM326 754h1v1h-1zM338 752h1v1h-1zM339 751h1v1h-1zM340 750h1v1h-1zM341 748h1v2h-1zM342 747h1v1h-1zM343 746h1v1h-1zM344 745h1v1h-1zM345 744h1v1h-1zM348 742h1v1h-1zM349 741h1v1h-1zM352 739h1v1h-1zM442 732h1v1h-1zM443 733h1v1h-1zM446 735h1v1h-1zM447 736h1v1h-1zM448 737h1v1h-1zM458 738h1v1h-1zM459 739h1v1h-1zM460 740h1v1h-1zM461 741h1v1h-1zM462 742h1v1h-1zM463 743h1v1h-1zM464 744h1v1h-1zM506 747h1v1h-1zM507 745h1v2h-1zM508 744h1v1h-1zM509 743h1v1h-1zM510 742h1v1h-1zM511 740h1v2h-1zM512 739h1v1h-1zM513 738h1v1h-1zM514 737h1v1h-1zM515 736h1v1h-1zM518 734h1v1h-1zM519 733h1v1h-1zM520 732h1v1h-1zM537 736h1v1h-1zM538 737h1v1h-1zM539 738h1v1h-1zM540 739h1v1h-1zM541 740h1v1h-1zM542 741h1v1h-1zM543 742h1v1h-1zM544 743h1v1h-1zM545 744h1v1h-1zM548 746h1v1h-1zM549 747h1v1h-1zM552 749h1v1h-1zM562 750h1v2h-1zM563 748h1v2h-1zM564 746h1v2h-1zM565 745h1v1h-1zM566 743h1v2h-1zM567 741h1v2h-1zM568 739h1v2h-1zM577 737h1v1h-1zM578 735h1v2h-1zM579 733h1v2h-1zM580 731h1v2h-1zM581 729h1v2h-1zM582 727h1v2h-1zM583 725h1v2h-1zM584 723h1v2h-1zM585 722h1v1h-1zM594 721h1v1h-1zM595 722h1v1h-1zM598 724h1v1h-1zM599 725h1v1h-1zM600 726h1v1h-1zM601 727h1v1h-1zM602 726h1v1h-1zM603 725h1v1h-1zM604 724h1v1h-1zM605 722h1v2h-1zM606 721h1v1h-1zM607 720h1v1h-1zM608 719h1v1h-1zM609 718h1v1h-1zM610 717h1v1h-1zM611 716h1v1h-1zM612 715h1v1h-1zM613 714h1v1h-1zM614 713h1v1h-1zM615 712h1v1h-1zM616 711h1v1h-1zM617 710h1v1h-1zM622 713h1v1h-1zM642 715h1v1h-1zM643 716h1v1h-1zM644 717h1v1h-1zM645 718h1v2h-1zM646 720h1v1h-1zM647 721h1v1h-1zM648 722h1v1h-1zM658 727h1v2h-1zM659 729h1v2h-1zM660 731h1v2h-1zM661 733h1v1h-1zM662 734h1v2h-1zM663 736h1v2h-1zM664 738h1v2h-1zM686 740h1v1h-1zM689 742h1v1h-1zM690 741h1v1h-1zM691 740h1v1h-1zM692 739h1v1h-1zM693 738h1v1h-1zM694 737h1v1h-1zM695 736h1v1h-1zM696 735h1v1h-1zM697 734h1v1h-1zM698 733h1v1h-1zM699 731h1v2h-1zM700 730h1v1h-1zM701 729h1v1h-1zM702 728h1v1h-1zM703 726h1v2h-1zM704 725h1v1h-1zM705 724h1v1h-1zM706 723h1v1h-1zM707 722h1v1h-1zM708 721h1v1h-1zM709 719h1v2h-1zM710 718h1v1h-1zM711 717h1v1h-1zM712 716h1v1h-1zM730 713h1v1h-1zM731 714h1v1h-1zM734 716h1v1h-1zM735 717h1v1h-1zM736 718h1v1h-1zM764 718h1v1h-1zM765 719h1v1h-1zM768 721h1v1h-1zM769 722h1v1h-1zM770 723h1v2h-1zM771 725h1v2h-1zM772 727h1v2h-1zM773 729h1v2h-1zM774 731h1v2h-1zM775 733h1v2h-1zM776 735h1v2h-1zM802 738h1v2h-1zM803 740h1v1h-1zM804 741h1v1h-1zM805 742h1v2h-1zM806 744h1v1h-1zM807 745h1v1h-1zM808 746h1v2h-1zM834 748h1v2h-1zM835 747h1v1h-1zM836 745h1v2h-1zM837 744h1v1h-1zM838 742h1v2h-1zM839 741h1v1h-1zM840 739h1v2h-1zM874 737h1v2h-1zM875 739h1v1h-1zM876 740h1v1h-1zM877 741h1v2h-1zM878 743h1v1h-1zM879 744h1v1h-1zM880 745h1v2h-1zM889 743h1v1h-1zM890 742h1v1h-1zM891 741h1v1h-1zM892 740h1v1h-1zM893 739h1v1h-1zM894 738h1v1h-1zM895 737h1v1h-1zM896 736h1v1h-1zM897 735h1v1h-1zM898 736h1v1h-1zM899 737h1v1h-1zM900 738h1v1h-1zM901 739h1v1h-1zM902 740h1v1h-1zM903 741h1v1h-1zM904 742h1v1h-1zM922 747h1v1h-1zM923 748h1v1h-1zM924 749h1v1h-1zM925 750h1v1h-1zM926 751h1v1h-1zM927 752h1v1h-1zM928 753h1v1h-1zM977 748h1v1h-1zM978 749h1v2h-1zM979 751h1v2h-1zM980 753h1v1h-1zM981 754h1v2h-1zM982 756h1v1h-1zM983 757h1v2h-1zM984 759h1v2h-1zM994 757h1v1h-1zM995 756h1v1h-1zM996 755h1v1h-1zM997 754h1v1h-1zM998 753h1v1h-1zM999 752h1v1h-1zM1000 751h1v1h-1zM1009 749h1v1h-1zM1010 746h1v3h-1zM1011 743h1v3h-1zM1012 740h1v3h-1zM1013 736h1v4h-1zM1014 733h1v3h-1zM1015 730h1v3h-1zM1016 727h1v3h-1zM1017 725h1v1h-1zM1020 727h1v1h-1zM1021 728h1v1h-1zM1024 730h1v1h-1zM1066 730h1v1h-1zM1067 731h1v1h-1zM1068 732h1v1h-1zM1069 733h1v1h-1zM1070 734h1v1h-1zM1071 735h1v1h-1zM1072 736h1v1h-1zM1073 737h1v1h-1zM1074 738h1v1h-1zM1075 739h1v1h-1zM1078 741h1v1h-1zM1079 742h1v1h-1zM1080 743h1v1h-1z" fill="#1e90ff"/>
</g>
<g id="frames" fill="#000">
<rect x="0" y="23" width="1417" height="1" fill="#000" />
<rect x="0" y="23" width="1" height="540" fill="#000" />
<rect x="0" y="562" width="1417" height="1" fill="#000" />
<rect x="1416" y="23" width="1" height="540" fill="#000" />
<rect x="1416" y="564" width="1" height="104" fill="#000" />
<rect x="1416" y="669" width="1" height="131" fill="#000" />
<rect x="0" y="564" width="1417" height="1" fill="#000" />
<rect x="0" y="564" width="1" height="104" fill="#000" />
<rect x="0" y="667" width="1417" height="1" fill="#000" />
<rect x="0" y="669" width="1417" height="1" fill="#000" />
<rect x="0" y="669" width="1" height="131" fill="#000" />
<rect x="0" y="799" width="1417" height="1" fill="#000" />
</g>
<g id="levels">
<rect x="1" y="104" width="1415" height="3" fill="#ff0000" />
<rect x="1" y="241" width="1415" height="3" fill="#ff0000" />
<rect x="1" y="353" width="1415" height="3" fill="#00ff00" />
<rect x="1" y="460" width="1415" height="3" fill="#0000ff" />
<rect x="1" y="555" width="1415" height="3" fill="#0000ff" />
</g>
<rect x="1416" y="23" width="1" height="540" fill="#000" />
<rect x="0" y="351" width="7" height="7" fill="#00ff00" />
<rect x="3" y="354" width="1" height="1" fill="#ffffff" />
<rect x="1410" y="351" width="7" height="7" fill="#00ff00" />
<rect x="1413" y="354" width="1" height="1" fill="#ffffff" />
<rect x="0" y="458" width="7" height="7" fill="#0000ff" />
<rect x="3" y="461" width="1" height="1" fill="#ffffff" />
<rect x="1410" y="458" width="7" height="7" fill="#0000ff" />
<rect x="1413" y="461" width="1" height="1" fill="#ffffff" />
<g id="axis" font-family='"Liberation Sans", Arial, sans-serif' text-rendering="geometricPrecision">
<rect x="1417" y="31" width="2" height="1" fill="#000" />
<text x="1422" y="35" font-size="10" fill="#000" stroke="#000" stroke-width="0.25" font-weight="normal" textLength="33.3" lengthAdjust="spacingAndGlyphs" >1.14635</text>
<rect x="1417" y="64" width="2" height="1" fill="#000" />
<text x="1422" y="68" font-size="10" fill="#000" stroke="#000" stroke-width="0.25" font-weight="normal" textLength="33.3" lengthAdjust="spacingAndGlyphs" >1.14355</text>
<rect x="1417" y="97" width="2" height="1" fill="#000" />
<text x="1422" y="101" font-size="10" fill="#000" stroke="#000" stroke-width="0.25" font-weight="normal" textLength="33.3" lengthAdjust="spacingAndGlyphs" >1.14075</text>
<rect x="1417" y="130" width="2" height="1" fill="#000" />
<text x="1422" y="134" font-size="10" fill="#000" stroke="#000" stroke-width="0.25" font-weight="normal" textLength="33.3" lengthAdjust="spacingAndGlyphs" >1.13795</text>
<rect x="1417" y="163" width="2" height="1" fill="#000" />
<text x="1422" y="167" font-size="10" fill="#000" stroke="#000" stroke-width="0.25" font-weight="normal" textLength="33.3" lengthAdjust="spacingAndGlyphs" >1.13515</text>
<rect x="1417" y="196" width="2" height="1" fill="#000" />
<text x="1422" y="200" font-size="10" fill="#000" stroke="#000" stroke-width="0.25" font-weight="normal" textLength="33.3" lengthAdjust="spacingAndGlyphs" >1.13240</text>
<rect x="1417" y="229" width="2" height="1" fill="#000" />
<text x="1422" y="233" font-size="10" fill="#000" stroke="#000" stroke-width="0.25" font-weight="normal" textLength="33.3" lengthAdjust="spacingAndGlyphs" >1.12960</text>
<rect x="1417" y="262" width="2" height="1" fill="#000" />
<text x="1422" y="266" font-size="10" fill="#000" stroke="#000" stroke-width="0.25" font-weight="normal" textLength="33.3" lengthAdjust="spacingAndGlyphs" >1.12680</text>
<rect x="1417" y="295" width="2" height="1" fill="#000" />
<text x="1422" y="299" font-size="10" fill="#000" stroke="#000" stroke-width="0.25" font-weight="normal" textLength="33.3" lengthAdjust="spacingAndGlyphs" >1.12400</text>
<rect x="1417" y="328" width="2" height="1" fill="#000" />
<text x="1422" y="332" font-size="10" fill="#000" stroke="#000" stroke-width="0.25" font-weight="normal" textLength="33.3" lengthAdjust="spacingAndGlyphs" >1.12120</text>
<rect x="1417" y="361" width="2" height="1" fill="#000" />
<text x="1422" y="365" font-size="10" fill="#000" stroke="#000" stroke-width="0.25" font-weight="normal" textLength="32.7" lengthAdjust="spacingAndGlyphs" >1.11845</text>
<rect x="1417" y="394" width="2" height="1" fill="#000" />
<text x="1422" y="398" font-size="10" fill="#000" stroke="#000" stroke-width="0.25" font-weight="normal" textLength="32.7" lengthAdjust="spacingAndGlyphs" >1.11565</text>
<rect x="1417" y="427" width="2" height="1" fill="#000" />
<text x="1422" y="431" font-size="10" fill="#000" stroke="#000" stroke-width="0.25" font-weight="normal" textLength="32.7" lengthAdjust="spacingAndGlyphs" >1.11285</text>
<rect x="1417" y="460" width="2" height="1" fill="#000" />
<text x="1422" y="464" font-size="10" fill="#000" stroke="#000" stroke-width="0.25" font-weight="normal" textLength="32.7" lengthAdjust="spacingAndGlyphs" >1.11000</text>
<rect x="1417" y="493" width="2" height="1" fill="#000" />
<text x="1422" y="497" font-size="10" fill="#000" stroke="#000" stroke-width="0.25" font-weight="normal" textLength="33.3" lengthAdjust="spacingAndGlyphs" >1.10725</text>
<rect x="1417" y="526" width="2" height="1" fill="#000" />
<text x="1422" y="530" font-size="10" fill="#000" stroke="#000" stroke-width="0.25" font-weight="normal" textLength="33.3" lengthAdjust="spacingAndGlyphs" >1.10450</text>
<rect x="1417" y="559" width="2" height="1" fill="#000" />
<text x="1422" y="563" font-size="10" fill="#000" stroke="#000" stroke-width="0.25" font-weight="normal" textLength="33.3" lengthAdjust="spacingAndGlyphs" >1.10170</text>
<rect x="1417" y="566" width="1" height="1" fill="#000" />
<text x="1420" y="575" font-size="10" fill="#000" stroke="#000" stroke-width="0.25" font-weight="normal" textLength="38.5" lengthAdjust="spacingAndGlyphs" >0.004517</text>
<rect x="1417" y="614" width="2" height="1" fill="#000" />
<text x="1420" y="618" font-size="10" fill="#000" stroke="#000" stroke-width="0.25" font-weight="normal" textLength="18.0" lengthAdjust="spacingAndGlyphs" >0.00</text>
<rect x="1417" y="666" width="1" height="1" fill="#000" />
<text x="1420" y="664" font-size="10" fill="#000" stroke="#000" stroke-width="0.25" font-weight="normal" textLength="41.5" lengthAdjust="spacingAndGlyphs" >-0.004806</text>
<rect x="1417" y="671" width="1" height="1" fill="#000" />
<text x="1420" y="680" font-size="10" fill="#000" stroke="#000" stroke-width="0.25" font-weight="normal" textLength="15.4" lengthAdjust="spacingAndGlyphs" >100</text>
<rect x="1417" y="709" width="2" height="1" fill="#000" />
<text x="1420" y="713" font-size="10" fill="#000" stroke="#000" stroke-width="0.25" font-weight="normal" textLength="10.3" lengthAdjust="spacingAndGlyphs" >70</text>
<rect x="1417" y="760" width="2" height="1" fill="#000" />
<text x="1420" y="764" font-size="10" fill="#000" stroke="#000" stroke-width="0.25" font-weight="normal" textLength="10.3" lengthAdjust="spacingAndGlyphs" >30</text>
<rect x="1417" y="798" width="1" height="1" fill="#000" />
<text x="1420" y="796" font-size="10" fill="#000" stroke="#000" stroke-width="0.25" font-weight="normal" textLength="5.1" lengthAdjust="spacingAndGlyphs" >0</text>
<rect x="1418" y="99" width="41" height="11" fill="#ff0000" />
<text x="1422" y="108" font-size="10" fill="#fff" stroke="#fff" stroke-width="0.25" font-weight="normal" textLength="33.3" lengthAdjust="spacingAndGlyphs" >1.14009</text>
<rect x="1418" y="236" width="41" height="11" fill="#ff0000" />
<text x="1422" y="245" font-size="10" fill="#fff" stroke="#fff" stroke-width="0.25" font-weight="normal" textLength="33.3" lengthAdjust="spacingAndGlyphs" >1.12851</text>
<rect x="1418" y="348" width="41" height="11" fill="#00ff00" />
<text x="1422" y="357" font-size="10" fill="#fff" stroke="#fff" stroke-width="0.25" font-weight="normal" textLength="32.7" lengthAdjust="spacingAndGlyphs" >1.11901</text>
<rect x="1418" y="455" width="41" height="11" fill="#0000ff" />
<text x="1422" y="464" font-size="10" fill="#fff" stroke="#fff" stroke-width="0.25" font-weight="normal" textLength="32.7" lengthAdjust="spacingAndGlyphs" >1.11000</text>
<rect x="1418" y="470" width="41" height="11" fill="#000000" />
<text x="1422" y="479" font-size="10" fill="#fff" stroke="#fff" stroke-width="0.25" font-weight="normal" textLength="33.3" lengthAdjust="spacingAndGlyphs" >1.10884</text>
<rect x="1418" y="550" width="41" height="11" fill="#0000ff" />
<text x="1422" y="559" font-size="10" fill="#fff" stroke="#fff" stroke-width="0.25" font-weight="normal" textLength="33.3" lengthAdjust="spacingAndGlyphs" >1.10201</text>
<rect x="1" y="800" width="1" height="3" fill="#000" />
<text x="0.5" y="812" font-size="10" fill="#000" stroke="#000" stroke-width="0.25" font-weight="normal" textLength="47.3" lengthAdjust="spacingAndGlyphs" >8 Mar 2019</text>
<rect x="65" y="800" width="1" height="3" fill="#000" />
<text x="64.5" y="812" font-size="10" fill="#000" stroke="#000" stroke-width="0.25" font-weight="normal" textLength="52.5" lengthAdjust="spacingAndGlyphs" >18 Mar 2019</text>
<rect x="129" y="800" width="1" height="3" fill="#000" />
<text x="128.5" y="812" font-size="10" fill="#000" stroke="#000" stroke-width="0.25" font-weight="normal" textLength="52.5" lengthAdjust="spacingAndGlyphs" >27 Mar 2019</text>
<rect x="193" y="800" width="1" height="3" fill="#000" />
<text x="192.5" y="812" font-size="10" fill="#000" stroke="#000" stroke-width="0.25" font-weight="normal" textLength="45.3" lengthAdjust="spacingAndGlyphs" >5 Apr 2019</text>
<rect x="257" y="800" width="1" height="3" fill="#000" />
<text x="256.5" y="812" font-size="10" fill="#000" stroke="#000" stroke-width="0.25" font-weight="normal" textLength="50.5" lengthAdjust="spacingAndGlyphs" >15 Apr 2019</text>
<rect x="321" y="800" width="1" height="3" fill="#000" />
<text x="320.5" y="812" font-size="10" fill="#000" stroke="#000" stroke-width="0.25" font-weight="normal" textLength="50.5" lengthAdjust="spacingAndGlyphs" >25 Apr 2019</text>
<rect x="385" y="800" width="1" height="3" fill="#000" />
<text x="384.5" y="812" font-size="10" fill="#000" stroke="#000" stroke-width="0.25" font-weight="normal" textLength="48.9" lengthAdjust="spacingAndGlyphs" >5 May 2019</text>
<rect x="449" y="800" width="1" height="3" fill="#000" />
<text x="448.5" y="812" font-size="10" fill="#000" stroke="#000" stroke-width="0.25" font-weight="normal" textLength="54.1" lengthAdjust="spacingAndGlyphs" >14 May 2019</text>
<rect x="513" y="800" width="1" height="3" fill="#000" />
<text x="512.5" y="812" font-size="10" fill="#000" stroke="#000" stroke-width="0.25" font-weight="normal" textLength="54.1" lengthAdjust="spacingAndGlyphs" >23 May 2019</text>
<rect x="577" y="800" width="1" height="3" fill="#000" />
<text x="576.5" y="812" font-size="10" fill="#000" stroke="#000" stroke-width="0.25" font-weight="normal" textLength="46.3" lengthAdjust="spacingAndGlyphs" >2 Jun 2019</text>
<rect x="641" y="800" width="1" height="3" fill="#000" />
<text x="640.5" y="812" font-size="10" fill="#000" stroke="#000" stroke-width="0.25" font-weight="normal" textLength="50.8" lengthAdjust="spacingAndGlyphs" >11 Jun 2019</text>
<rect x="705" y="800" width="1" height="3" fill="#000" />
<text x="704.5" y="812" font-size="10" fill="#000" stroke="#000" stroke-width="0.25" font-weight="normal" textLength="51.5" lengthAdjust="spacingAndGlyphs" >20 Jun 2019</text>
<rect x="769" y="800" width="1" height="3" fill="#000" />
<text x="768.5" y="812" font-size="10" fill="#000" stroke="#000" stroke-width="0.25" font-weight="normal" textLength="51.5" lengthAdjust="spacingAndGlyphs" >30 Jun 2019</text>
<rect x="833" y="800" width="1" height="3" fill="#000" />
<text x="832.5" y="812" font-size="10" fill="#000" stroke="#000" stroke-width="0.25" font-weight="normal" textLength="43.2" lengthAdjust="spacingAndGlyphs" >9 Jul 2019</text>
<rect x="897" y="800" width="1" height="3" fill="#000" />
<text x="896.5" y="812" font-size="10" fill="#000" stroke="#000" stroke-width="0.25" font-weight="normal" textLength="48.4" lengthAdjust="spacingAndGlyphs" >18 Jul 2019</text>
<rect x="961" y="800" width="1" height="3" fill="#000" />
<text x="960.5" y="812" font-size="10" fill="#000" stroke="#000" stroke-width="0.25" font-weight="normal" textLength="48.4" lengthAdjust="spacingAndGlyphs" >28 Jul 2019</text>
<rect x="1025" y="800" width="1" height="3" fill="#000" />
<text x="1024.5" y="812" font-size="10" fill="#000" stroke="#000" stroke-width="0.25" font-weight="normal" textLength="47.4" lengthAdjust="spacingAndGlyphs" >6 Aug 2019</text>
<rect x="1089" y="800" width="1" height="3" fill="#000" />
<text x="1088.5" y="812" font-size="10" fill="#000" stroke="#000" stroke-width="0.25" font-weight="normal" textLength="52.6" lengthAdjust="spacingAndGlyphs" >15 Aug 2019</text>
<text x="16" y="35" font-size="10" fill="#000" stroke="#000" stroke-width="0.25" font-weight="normal" textLength="67.5" lengthAdjust="spacingAndGlyphs" id="t1">EURUSD-,Daily</text>
<text x="89" y="35" font-size="10" fill="#000" stroke="#000" stroke-width="0.25" font-weight="normal" textLength="33.3" lengthAdjust="spacingAndGlyphs" >1.10912</text>
<text x="125" y="35" font-size="10" fill="#000" stroke="#000" stroke-width="0.25" font-weight="normal" textLength="33.3" lengthAdjust="spacingAndGlyphs" >1.10918</text>
<text x="161" y="35" font-size="10" fill="#000" stroke="#000" stroke-width="0.25" font-weight="normal" textLength="33.3" lengthAdjust="spacingAndGlyphs" >1.10871</text>
<text x="197" y="35" font-size="10" fill="#000" stroke="#000" stroke-width="0.25" font-weight="normal" textLength="33.3" lengthAdjust="spacingAndGlyphs" >1.10884</text>
<path d="M4 34 L11 34 L7.5 30 Z" fill="#000"/>
<text x="5" y="577" font-size="10" fill="#000" stroke="#000" stroke-width="0.25" font-weight="normal" textLength="154.5" lengthAdjust="spacingAndGlyphs" >MACD(12,26,9) -0.002439 -0.001267</text>
<text x="5" y="682" font-size="10" fill="#000" stroke="#000" stroke-width="0.25" font-weight="normal" textLength="69.5" lengthAdjust="spacingAndGlyphs" >RSI(14) 37.2167</text>
<rect x="1127" y="24" width="9" height="1" fill="#c0c0c0" />
<rect x="1128" y="25" width="7" height="1" fill="#c0c0c0" />
<rect x="1129" y="26" width="5" height="1" fill="#c0c0c0" />
<rect x="1130" y="27" width="3" height="1" fill="#c0c0c0" />
<rect x="1131" y="28" width="1" height="1" fill="#c0c0c0" />
</g></svg>
<div id="panel">
  <div class="btn" style="left:2px"><span id="tsell" style="left:10.5px;top:-1px;transform:scaleX(0.86)">SELL</span><u></u></div>
  <div id="spin">
    <div class="sb" style="left:1px"><svg width="18" height="18" viewBox="0 0 18 18" shape-rendering="crispEdges"><rect x="6" y="7" width="5" height="1" fill="#4a6cc8"/><rect x="7" y="8" width="3" height="1" fill="#3d57a8"/><rect x="8" y="9" width="1" height="1" fill="#2c3f80"/></svg></div>
    <i class="dv" style="left:20px"></i>
    <div class="val" id="tval" style="left:61px;top:4px;transform:scaleX(1.08)">1.00</div>
    <i class="dv" style="left:88px"></i>
    <div class="sb" style="left:90px"><svg width="18" height="18" viewBox="0 0 18 18" shape-rendering="crispEdges"><rect x="9" y="7" width="1" height="1" fill="#4a6cc8"/><rect x="8" y="8" width="3" height="1" fill="#3d57a8"/><rect x="7" y="9" width="5" height="1" fill="#2c3f80"/></svg></div>
  </div>
  <div class="btn" style="left:169px"><span id="tbuy" style="left:11.5px;top:-1px;transform:scaleX(0.9)">BUY</span><u></u></div>
  <div class="px" style="left:2px;width:109px"><span class="s" id="ps1" style="left:19px;top:21px;transform:scaleX(1.06)">1.10</span><span class="b" id="pb1" style="left:45.8px;top:2px;transform:scaleX(0.955)">88</span><span class="s" id="pe1" style="left:86px;top:5px;transform:scaleX(1.1)">4</span></div>
  <div class="px" style="left:113px;width:108px"><span class="s" id="ps2" style="left:18px;top:21px;transform:scaleX(1.06)">1.10</span><span class="b" id="pb2" style="left:45.8px;top:2px;transform:scaleX(0.955)">90</span><span class="s" id="pe2" style="left:86px;top:5px;transform:scaleX(1.1)">2</span></div>
</div>
<div id="tabs">
  <i class="l0"></i><i class="l1"></i><i class="l2"></i><i class="l3"></i>
  <div class="act"></div>
  <svg width="1459" height="26" viewBox="0 820 1459 26" style="position:absolute;left:0;top:0" font-family='"Liberation Sans", Arial, sans-serif' font-size="13"><text x="13" y="837" fill="#000" textLength="85.3" lengthAdjust="spacingAndGlyphs">EURUSD-,Daily</text><text x="120" y="837" fill="#7a7a7a" textLength="87" lengthAdjust="spacingAndGlyphs">AUDUSD-,Daily</text><text x="230" y="837" fill="#7a7a7a" textLength="84.5" lengthAdjust="spacingAndGlyphs">USDCHF-,Daily</text><text x="337" y="837" fill="#7a7a7a" textLength="86" lengthAdjust="spacingAndGlyphs">USDCAD-,Daily</text><text x="446.3" y="837" fill="#7a7a7a" textLength="88" lengthAdjust="spacingAndGlyphs">USDCNH-,Daily</text><text x="557" y="837" fill="#7a7a7a" textLength="97" lengthAdjust="spacingAndGlyphs">EURCHF-,Weekly</text><text x="677.7" y="837" fill="#7a7a7a" textLength="99.8" lengthAdjust="spacingAndGlyphs">XAUUSD-,Weekly</text><text x="801.3" y="837" fill="#7a7a7a" textLength="72.6" lengthAdjust="spacingAndGlyphs">GBPUSD-,H1</text><text x="897" y="837" fill="#7a7a7a" textLength="56.4" lengthAdjust="spacingAndGlyphs">UKOil-,H1</text><text x="976.4" y="837" fill="#7a7a7a" textLength="82.6" lengthAdjust="spacingAndGlyphs">USDX-,Weekly</text><rect x="218" y="825" width="1" height="14" fill="#808080" shape-rendering="crispEdges"/><rect x="326" y="825" width="1" height="14" fill="#808080" shape-rendering="crispEdges"/><rect x="434" y="825" width="1" height="14" fill="#808080" shape-rendering="crispEdges"/><rect x="546" y="825" width="1" height="14" fill="#808080" shape-rendering="crispEdges"/><rect x="666" y="825" width="1" height="14" fill="#808080" shape-rendering="crispEdges"/><rect x="790" y="825" width="1" height="14" fill="#808080" shape-rendering="crispEdges"/><rect x="886" y="825" width="1" height="14" fill="#808080" shape-rendering="crispEdges"/><rect x="966" y="825" width="1" height="14" fill="#808080" shape-rendering="crispEdges"/><rect x="1070" y="825" width="1" height="14" fill="#808080" shape-rendering="crispEdges"/><rect x="1434" y="828" width="1" height="6" fill="#8a8a8a" shape-rendering="crispEdges"/><rect x="1451" y="828" width="1" height="6" fill="#8a8a8a" shape-rendering="crispEdges"/><rect x="1433" y="829" width="1" height="4" fill="#8a8a8a" shape-rendering="crispEdges"/><rect x="1452" y="829" width="1" height="4" fill="#8a8a8a" shape-rendering="crispEdges"/><rect x="1432" y="830" width="1" height="2" fill="#8a8a8a" shape-rendering="crispEdges"/><rect x="1453" y="830" width="1" height="2" fill="#8a8a8a" shape-rendering="crispEdges"/></svg>
  <i class="bot"></i>
</div>
</body>
</html>
